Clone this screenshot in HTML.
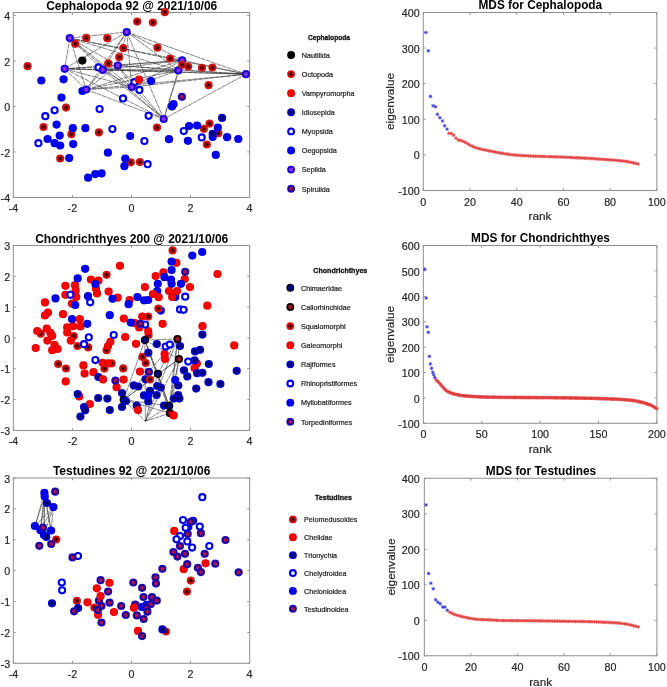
<!DOCTYPE html>
<html><head><meta charset="utf-8"><style>
html,body{margin:0;padding:0;background:#fff;}
body{width:667px;height:687px;overflow:hidden;}
svg{display:block;}
text{font-family:"Liberation Sans", sans-serif;}
svg{will-change:transform;filter:blur(0.3px);}
</style></head><body>
<svg width="667" height="687" viewBox="0 0 667 687" font-family='"Liberation Sans", sans-serif'>
<defs>
<radialGradient id="gO" cx="50%" cy="50%" r="50%">
  <stop offset="0" stop-color="#100000"/><stop offset="0.18" stop-color="#300000"/>
  <stop offset="0.42" stop-color="#8a0404"/><stop offset="0.65" stop-color="#c81212"/><stop offset="1" stop-color="#d81c1c"/>
</radialGradient>
<radialGradient id="gI" cx="50%" cy="50%" r="50%">
  <stop offset="0" stop-color="#000040"/><stop offset="0.25" stop-color="#000068"/>
  <stop offset="0.5" stop-color="#0000a4"/><stop offset="0.85" stop-color="#0000c0"/><stop offset="1" stop-color="#1010c4"/>
</radialGradient>
<radialGradient id="gS" cx="50%" cy="50%" r="50%">
  <stop offset="0" stop-color="#b434f0"/><stop offset="0.28" stop-color="#9430f0"/>
  <stop offset="0.5" stop-color="#4c18e6"/><stop offset="0.72" stop-color="#1400d0"/><stop offset="1" stop-color="#1a0ad8"/>
</radialGradient>
<radialGradient id="gP" cx="50%" cy="50%" r="50%">
  <stop offset="0" stop-color="#d0103c"/><stop offset="0.3" stop-color="#a01058"/>
  <stop offset="0.65" stop-color="#180090"/><stop offset="1" stop-color="#2010d0"/>
</radialGradient>
<radialGradient id="gCH" cx="50%" cy="50%" r="50%">
  <stop offset="0" stop-color="#0a0a98"/><stop offset="0.5" stop-color="#000078"/>
  <stop offset="0.8" stop-color="#000018"/><stop offset="1" stop-color="#000000"/>
</radialGradient>
<radialGradient id="gCA" cx="50%" cy="50%" r="50%">
  <stop offset="0" stop-color="#c82030"/><stop offset="0.35" stop-color="#901020"/>
  <stop offset="0.7" stop-color="#180000"/><stop offset="1" stop-color="#000000"/>
</radialGradient>
<radialGradient id="gG" cx="50%" cy="50%" r="50%">
  <stop offset="0" stop-color="#0000f4"/><stop offset="0.75" stop-color="#0000ee"/><stop offset="1" stop-color="#0000c8"/>
</radialGradient>
<radialGradient id="gV" cx="50%" cy="50%" r="50%">
  <stop offset="0" stop-color="#ff0808"/><stop offset="0.75" stop-color="#f40000"/><stop offset="1" stop-color="#dd0000"/>
</radialGradient>
</defs>
<rect width="667" height="687" fill="#fff"/>
<path d="M12.9 12.5H250.1M12.9 197.4H250.1" stroke="#8e8e8e" stroke-width="1.05" fill="none"/>
<path d="M13.4 12.5V197.4M249.6 12.5V197.4" stroke="#a2a2a2" stroke-width="1.2" fill="none"/>
<path d="M13.4 197.4v-2.4M13.4 12.5v2.4M72.45 197.4v-2.4M72.45 12.5v2.4M131.5 197.4v-2.4M131.5 12.5v2.4M190.55 197.4v-2.4M190.55 12.5v2.4M249.6 197.4v-2.4M249.6 12.5v2.4M13.4 15.5h2.4M249.6 15.5h-2.4M13.4 60.98h2.4M249.6 60.98h-2.4M13.4 106.45h2.4M249.6 106.45h-2.4M13.4 151.93h2.4M249.6 151.93h-2.4M13.4 197.4h2.4M249.6 197.4h-2.4" stroke="#959595" stroke-width="1" fill="none"/>
<text x="13.4" y="212" font-size="10.7" text-anchor="middle" fill="#262626" stroke="#262626" stroke-width="0.2">-4</text>
<text x="72.45" y="212" font-size="10.7" text-anchor="middle" fill="#262626" stroke="#262626" stroke-width="0.2">-2</text>
<text x="131.5" y="212" font-size="10.7" text-anchor="middle" fill="#262626" stroke="#262626" stroke-width="0.2">0</text>
<text x="190.55" y="212" font-size="10.7" text-anchor="middle" fill="#262626" stroke="#262626" stroke-width="0.2">2</text>
<text x="249.6" y="212" font-size="10.7" text-anchor="middle" fill="#262626" stroke="#262626" stroke-width="0.2">4</text>
<text x="10.1" y="20.1" font-size="10.7" text-anchor="end" fill="#262626" stroke="#262626" stroke-width="0.2">4</text>
<text x="10.1" y="65.58" font-size="10.7" text-anchor="end" fill="#262626" stroke="#262626" stroke-width="0.2">2</text>
<text x="10.1" y="111.05" font-size="10.7" text-anchor="end" fill="#262626" stroke="#262626" stroke-width="0.2">0</text>
<text x="10.1" y="156.53" font-size="10.7" text-anchor="end" fill="#262626" stroke="#262626" stroke-width="0.2">-2</text>
<text x="10.1" y="202" font-size="10.7" text-anchor="end" fill="#262626" stroke="#262626" stroke-width="0.2">-4</text>
<text x="131.7" y="9.6" font-size="12.0" text-anchor="middle" font-weight="bold" fill="#000">Cephalopoda 92 @ 2021/10/06</text>
<path d="M69.8 38.1L126.7 32M69.8 38.1L64.7 68.8M69.8 38.1L102.8 69.9M69.8 38.1L117.8 65.5M69.8 38.1L86.2 89.5M69.8 38.1L131.8 87M69.8 38.1L182.2 60.3M69.8 38.1L178.3 70.4M69.8 38.1L246 74.2M69.8 38.1L163.7 119M126.7 32L64.7 68.8M126.7 32L102.8 69.9M126.7 32L117.8 65.5M126.7 32L86.2 89.5M126.7 32L131.8 87M126.7 32L182.2 60.3M126.7 32L178.3 70.4M126.7 32L246 74.2M126.7 32L163.7 119M64.7 68.8L102.8 69.9M64.7 68.8L117.8 65.5M64.7 68.8L86.2 89.5M64.7 68.8L131.8 87M64.7 68.8L182.2 60.3M64.7 68.8L178.3 70.4M64.7 68.8L246 74.2M64.7 68.8L163.7 119M102.8 69.9L117.8 65.5M102.8 69.9L86.2 89.5M102.8 69.9L131.8 87M102.8 69.9L182.2 60.3M102.8 69.9L178.3 70.4M102.8 69.9L246 74.2M102.8 69.9L163.7 119M117.8 65.5L86.2 89.5M117.8 65.5L131.8 87M117.8 65.5L182.2 60.3M117.8 65.5L178.3 70.4M117.8 65.5L246 74.2M117.8 65.5L163.7 119M86.2 89.5L131.8 87M86.2 89.5L182.2 60.3M86.2 89.5L178.3 70.4M86.2 89.5L246 74.2M86.2 89.5L163.7 119M131.8 87L182.2 60.3M131.8 87L178.3 70.4M131.8 87L246 74.2M131.8 87L163.7 119M182.2 60.3L178.3 70.4M182.2 60.3L246 74.2M182.2 60.3L163.7 119M178.3 70.4L246 74.2M178.3 70.4L163.7 119M246 74.2L163.7 119" stroke="#303030" stroke-width="0.6" stroke-dasharray="5 0.6" fill="none"/>
<circle cx="86.3" cy="37.9" r="4.1" fill="url(#gO)"/>
<circle cx="107.3" cy="38.2" r="4.1" fill="url(#gO)"/>
<circle cx="75.3" cy="43.8" r="4.1" fill="url(#gO)"/>
<circle cx="123.4" cy="48.2" r="4.1" fill="url(#gO)"/>
<circle cx="119.2" cy="57.2" r="4.1" fill="url(#gO)"/>
<circle cx="108.3" cy="63.4" r="4.1" fill="url(#gO)"/>
<circle cx="27.6" cy="66.2" r="4.1" fill="url(#gO)"/>
<circle cx="137.2" cy="21.6" r="4.1" fill="url(#gO)"/>
<circle cx="152.9" cy="22.6" r="4.1" fill="url(#gO)"/>
<circle cx="164.8" cy="12.2" r="4.1" fill="url(#gO)"/>
<circle cx="157.5" cy="47.7" r="4.1" fill="url(#gO)"/>
<circle cx="170.1" cy="58.5" r="4.1" fill="url(#gO)"/>
<circle cx="188.2" cy="66.6" r="4.1" fill="url(#gO)"/>
<circle cx="202" cy="67.8" r="4.1" fill="url(#gO)"/>
<circle cx="212.4" cy="67.6" r="4.1" fill="url(#gO)"/>
<circle cx="208.6" cy="85.2" r="4.1" fill="url(#gO)"/>
<circle cx="66" cy="107.6" r="4.1" fill="url(#gO)"/>
<circle cx="43.5" cy="127" r="4.1" fill="url(#gO)"/>
<circle cx="98.9" cy="132.4" r="4.1" fill="url(#gO)"/>
<circle cx="71.4" cy="134.2" r="4.1" fill="url(#gO)"/>
<circle cx="60.2" cy="158.5" r="4.1" fill="url(#gO)"/>
<circle cx="130.8" cy="162.3" r="4.1" fill="url(#gO)"/>
<circle cx="157" cy="127.5" r="4.1" fill="url(#gO)"/>
<circle cx="209.6" cy="123.6" r="4.1" fill="url(#gO)"/>
<circle cx="203.9" cy="128.8" r="4.1" fill="url(#gO)"/>
<circle cx="218.4" cy="133.2" r="4.1" fill="url(#gO)"/>
<circle cx="206.9" cy="144.5" r="4.1" fill="url(#gO)"/>
<circle cx="139.9" cy="162.1" r="4.1" fill="url(#gO)"/>
<circle cx="82.3" cy="60.6" r="4.1" fill="#000"/>
<circle cx="222.1" cy="117.9" r="4.1" fill="url(#gI)"/>
<circle cx="98.5" cy="67.4" r="3.05" fill="#fff" stroke="#0000e8" stroke-width="2.1"/>
<circle cx="123" cy="98.4" r="3.05" fill="#fff" stroke="#0000e8" stroke-width="2.1"/>
<circle cx="134.4" cy="82.2" r="3.05" fill="#fff" stroke="#0000e8" stroke-width="2.1"/>
<circle cx="139.4" cy="89.9" r="3.05" fill="#fff" stroke="#0000e8" stroke-width="2.1"/>
<circle cx="54.6" cy="110.3" r="3.05" fill="#fff" stroke="#0000e8" stroke-width="2.1"/>
<circle cx="45.3" cy="116.2" r="3.05" fill="#fff" stroke="#0000e8" stroke-width="2.1"/>
<circle cx="99.6" cy="109" r="3.05" fill="#fff" stroke="#0000e8" stroke-width="2.1"/>
<circle cx="112.4" cy="129.1" r="3.05" fill="#fff" stroke="#0000e8" stroke-width="2.1"/>
<circle cx="38.4" cy="143.2" r="3.05" fill="#fff" stroke="#0000e8" stroke-width="2.1"/>
<circle cx="148.6" cy="115.8" r="3.05" fill="#fff" stroke="#0000e8" stroke-width="2.1"/>
<circle cx="183.8" cy="131.1" r="3.05" fill="#fff" stroke="#0000e8" stroke-width="2.1"/>
<circle cx="201.7" cy="137.4" r="3.05" fill="#fff" stroke="#0000e8" stroke-width="2.1"/>
<circle cx="144.4" cy="141" r="3.05" fill="#fff" stroke="#0000e8" stroke-width="2.1"/>
<circle cx="147.6" cy="164.2" r="3.05" fill="#fff" stroke="#0000e8" stroke-width="2.1"/>
<circle cx="41.3" cy="80.5" r="4.1" fill="url(#gG)"/>
<circle cx="63.6" cy="79.3" r="4.1" fill="url(#gG)"/>
<circle cx="82.4" cy="91" r="4.1" fill="url(#gG)"/>
<circle cx="61.5" cy="97.6" r="4.1" fill="url(#gG)"/>
<circle cx="151.1" cy="81" r="4.1" fill="url(#gG)"/>
<circle cx="172" cy="106.5" r="4.1" fill="url(#gG)"/>
<circle cx="173.5" cy="104.2" r="4.1" fill="url(#gG)"/>
<circle cx="56.6" cy="124.6" r="4.1" fill="url(#gG)"/>
<circle cx="72.8" cy="128.2" r="4.1" fill="url(#gG)"/>
<circle cx="85.4" cy="128.2" r="4.1" fill="url(#gG)"/>
<circle cx="59.7" cy="135.6" r="4.1" fill="url(#gG)"/>
<circle cx="47.6" cy="139" r="4.1" fill="url(#gG)"/>
<circle cx="54.6" cy="143.2" r="4.1" fill="url(#gG)"/>
<circle cx="60.2" cy="145.5" r="4.1" fill="url(#gG)"/>
<circle cx="73.2" cy="144.1" r="4.1" fill="url(#gG)"/>
<circle cx="107.9" cy="152.7" r="4.1" fill="url(#gG)"/>
<circle cx="69.2" cy="158.1" r="4.1" fill="url(#gG)"/>
<circle cx="88.1" cy="177.7" r="4.1" fill="url(#gG)"/>
<circle cx="95.3" cy="174.1" r="4.1" fill="url(#gG)"/>
<circle cx="101.6" cy="173.4" r="4.1" fill="url(#gG)"/>
<circle cx="130.2" cy="136" r="4.1" fill="url(#gG)"/>
<circle cx="125.3" cy="158.5" r="4.1" fill="url(#gG)"/>
<circle cx="124.4" cy="166.2" r="4.1" fill="url(#gG)"/>
<circle cx="189.1" cy="126" r="4.1" fill="url(#gG)"/>
<circle cx="197.1" cy="125.5" r="4.1" fill="url(#gG)"/>
<circle cx="217.8" cy="127.5" r="4.1" fill="url(#gG)"/>
<circle cx="212.7" cy="137" r="4.1" fill="url(#gG)"/>
<circle cx="227.1" cy="137.2" r="4.1" fill="url(#gG)"/>
<circle cx="238.3" cy="139" r="4.1" fill="url(#gG)"/>
<circle cx="169" cy="139.2" r="4.1" fill="url(#gG)"/>
<circle cx="187.9" cy="140.8" r="4.1" fill="url(#gG)"/>
<circle cx="215.8" cy="154.9" r="4.1" fill="url(#gG)"/>
<circle cx="69.8" cy="38.1" r="4.1" fill="url(#gS)"/>
<circle cx="126.7" cy="32" r="4.1" fill="url(#gS)"/>
<circle cx="64.7" cy="68.8" r="4.1" fill="url(#gS)"/>
<circle cx="102.8" cy="69.9" r="4.1" fill="url(#gS)"/>
<circle cx="117.8" cy="65.5" r="4.1" fill="url(#gS)"/>
<circle cx="86.2" cy="89.5" r="4.1" fill="url(#gS)"/>
<circle cx="131.8" cy="87" r="4.1" fill="url(#gS)"/>
<circle cx="182.2" cy="60.3" r="4.1" fill="url(#gS)"/>
<circle cx="178.3" cy="70.4" r="4.1" fill="url(#gS)"/>
<circle cx="246" cy="74.2" r="4.1" fill="url(#gS)"/>
<circle cx="163.7" cy="119" r="4.1" fill="url(#gS)"/>
<circle cx="181.9" cy="96.8" r="4.1" fill="url(#gP)"/>
<circle cx="182.2" cy="64.8" r="4.1" fill="url(#gO)"/>
<circle cx="139" cy="79.7" r="4.1" fill="url(#gV)"/>
<circle cx="212.7" cy="133.8" r="4.1" fill="url(#gI)"/>
<path d="M12.9 245.4H250.1M12.9 430.4H250.1" stroke="#8e8e8e" stroke-width="1.05" fill="none"/>
<path d="M13.4 245.4V430.4M249.6 245.4V430.4" stroke="#a2a2a2" stroke-width="1.2" fill="none"/>
<path d="M13.4 430.4v-2.4M13.4 245.4v2.4M72.45 430.4v-2.4M72.45 245.4v2.4M131.5 430.4v-2.4M131.5 245.4v2.4M190.55 430.4v-2.4M190.55 245.4v2.4M249.6 430.4v-2.4M249.6 245.4v2.4M13.4 245.4h2.4M249.6 245.4h-2.4M13.4 276.23h2.4M249.6 276.23h-2.4M13.4 307.07h2.4M249.6 307.07h-2.4M13.4 337.9h2.4M249.6 337.9h-2.4M13.4 368.73h2.4M249.6 368.73h-2.4M13.4 399.57h2.4M249.6 399.57h-2.4M13.4 430.4h2.4M249.6 430.4h-2.4" stroke="#959595" stroke-width="1" fill="none"/>
<text x="13.4" y="445" font-size="10.7" text-anchor="middle" fill="#262626" stroke="#262626" stroke-width="0.2">-4</text>
<text x="72.45" y="445" font-size="10.7" text-anchor="middle" fill="#262626" stroke="#262626" stroke-width="0.2">-2</text>
<text x="131.5" y="445" font-size="10.7" text-anchor="middle" fill="#262626" stroke="#262626" stroke-width="0.2">0</text>
<text x="190.55" y="445" font-size="10.7" text-anchor="middle" fill="#262626" stroke="#262626" stroke-width="0.2">2</text>
<text x="249.6" y="445" font-size="10.7" text-anchor="middle" fill="#262626" stroke="#262626" stroke-width="0.2">4</text>
<text x="10.1" y="250" font-size="10.7" text-anchor="end" fill="#262626" stroke="#262626" stroke-width="0.2">3</text>
<text x="10.1" y="280.83" font-size="10.7" text-anchor="end" fill="#262626" stroke="#262626" stroke-width="0.2">2</text>
<text x="10.1" y="311.67" font-size="10.7" text-anchor="end" fill="#262626" stroke="#262626" stroke-width="0.2">1</text>
<text x="10.1" y="342.5" font-size="10.7" text-anchor="end" fill="#262626" stroke="#262626" stroke-width="0.2">0</text>
<text x="10.1" y="373.33" font-size="10.7" text-anchor="end" fill="#262626" stroke="#262626" stroke-width="0.2">-1</text>
<text x="10.1" y="404.17" font-size="10.7" text-anchor="end" fill="#262626" stroke="#262626" stroke-width="0.2">-2</text>
<text x="10.1" y="435" font-size="10.7" text-anchor="end" fill="#262626" stroke="#262626" stroke-width="0.2">-3</text>
<text x="131.7" y="242.5" font-size="12.0" text-anchor="middle" font-weight="bold" fill="#000">Chondrichthyes 200 @ 2021/10/06</text>
<path d="M144.9 340.1L157.9 373.8M144.9 340.1L123.7 399.8M144.9 340.1L169.2 405.9M144.9 340.1L177.5 339M144.9 340.1L179 359.1M144.9 340.1L170 413.2M144.9 340.1L145.4 421.2M157.9 373.8L123.7 399.8M157.9 373.8L169.2 405.9M157.9 373.8L177.5 339M157.9 373.8L179 359.1M157.9 373.8L170 413.2M157.9 373.8L145.4 421.2M123.7 399.8L169.2 405.9M123.7 399.8L177.5 339M123.7 399.8L179 359.1M123.7 399.8L170 413.2M123.7 399.8L145.4 421.2M169.2 405.9L177.5 339M169.2 405.9L179 359.1M169.2 405.9L170 413.2M169.2 405.9L145.4 421.2M177.5 339L179 359.1M177.5 339L170 413.2M177.5 339L145.4 421.2M179 359.1L170 413.2M179 359.1L145.4 421.2M170 413.2L145.4 421.2" stroke="#303030" stroke-width="0.6" stroke-dasharray="5 0.6" fill="none"/>
<circle cx="106.6" cy="274.8" r="4.1" fill="url(#gO)"/>
<circle cx="172.6" cy="250.4" r="4.1" fill="url(#gO)"/>
<circle cx="73.8" cy="336.1" r="4.1" fill="url(#gO)"/>
<circle cx="77.4" cy="346" r="4.1" fill="url(#gO)"/>
<circle cx="88.2" cy="347.4" r="4.1" fill="url(#gO)"/>
<circle cx="40.8" cy="333.7" r="4.1" fill="url(#gO)"/>
<circle cx="58.2" cy="364" r="4.1" fill="url(#gO)"/>
<circle cx="66" cy="368.5" r="4.1" fill="url(#gO)"/>
<circle cx="148.2" cy="316.6" r="4.1" fill="url(#gO)"/>
<circle cx="148.6" cy="335" r="4.1" fill="url(#gO)"/>
<circle cx="106.6" cy="350.2" r="4.1" fill="url(#gO)"/>
<circle cx="142.5" cy="356.9" r="4.1" fill="url(#gO)"/>
<circle cx="145.7" cy="363" r="4.1" fill="url(#gO)"/>
<circle cx="111.6" cy="363.4" r="4.1" fill="url(#gO)"/>
<circle cx="104.4" cy="368.6" r="4.1" fill="url(#gO)"/>
<circle cx="123.2" cy="368.4" r="4.1" fill="url(#gO)"/>
<circle cx="90.9" cy="279.5" r="4.1" fill="url(#gV)"/>
<circle cx="65.4" cy="285.8" r="4.1" fill="url(#gV)"/>
<circle cx="75" cy="285.2" r="4.1" fill="url(#gV)"/>
<circle cx="75.6" cy="290.4" r="4.1" fill="url(#gV)"/>
<circle cx="76.2" cy="297" r="4.1" fill="url(#gV)"/>
<circle cx="65.4" cy="294.8" r="4.1" fill="url(#gV)"/>
<circle cx="45" cy="302.4" r="4.1" fill="url(#gV)"/>
<circle cx="72" cy="303.6" r="4.1" fill="url(#gV)"/>
<circle cx="120" cy="265.8" r="4.1" fill="url(#gV)"/>
<circle cx="98.5" cy="280.5" r="4.1" fill="url(#gV)"/>
<circle cx="96" cy="288.5" r="4.1" fill="url(#gV)"/>
<circle cx="97" cy="293.4" r="4.1" fill="url(#gV)"/>
<circle cx="108.6" cy="291.6" r="4.1" fill="url(#gV)"/>
<circle cx="117.6" cy="297.7" r="4.1" fill="url(#gV)"/>
<circle cx="129.6" cy="300" r="4.1" fill="url(#gV)"/>
<circle cx="144.9" cy="287" r="4.1" fill="url(#gV)"/>
<circle cx="155.7" cy="276" r="4.1" fill="url(#gV)"/>
<circle cx="163.4" cy="272.4" r="4.1" fill="url(#gV)"/>
<circle cx="176.4" cy="262.8" r="4.1" fill="url(#gV)"/>
<circle cx="217.5" cy="274" r="4.1" fill="url(#gV)"/>
<circle cx="184.8" cy="279" r="4.1" fill="url(#gV)"/>
<circle cx="190" cy="287.1" r="4.1" fill="url(#gV)"/>
<circle cx="207.3" cy="305.7" r="4.1" fill="url(#gV)"/>
<circle cx="48" cy="312.6" r="4.1" fill="url(#gV)"/>
<circle cx="45" cy="315.4" r="4.1" fill="url(#gV)"/>
<circle cx="63" cy="314.2" r="4.1" fill="url(#gV)"/>
<circle cx="79.8" cy="319.2" r="4.1" fill="url(#gV)"/>
<circle cx="80.4" cy="326.5" r="4.1" fill="url(#gV)"/>
<circle cx="67.2" cy="327.4" r="4.1" fill="url(#gV)"/>
<circle cx="73.2" cy="326.2" r="4.1" fill="url(#gV)"/>
<circle cx="67.2" cy="332.5" r="4.1" fill="url(#gV)"/>
<circle cx="70.8" cy="340.6" r="4.1" fill="url(#gV)"/>
<circle cx="37.2" cy="331" r="4.1" fill="url(#gV)"/>
<circle cx="46.8" cy="328.6" r="4.1" fill="url(#gV)"/>
<circle cx="50.4" cy="332.8" r="4.1" fill="url(#gV)"/>
<circle cx="52.2" cy="335.8" r="4.1" fill="url(#gV)"/>
<circle cx="47.4" cy="340.6" r="4.1" fill="url(#gV)"/>
<circle cx="54.6" cy="344.8" r="4.1" fill="url(#gV)"/>
<circle cx="57.6" cy="349" r="4.1" fill="url(#gV)"/>
<circle cx="52.2" cy="350.2" r="4.1" fill="url(#gV)"/>
<circle cx="35.7" cy="348.1" r="4.1" fill="url(#gV)"/>
<circle cx="83.4" cy="365.4" r="4.1" fill="url(#gV)"/>
<circle cx="123.8" cy="318.6" r="4.1" fill="url(#gV)"/>
<circle cx="135" cy="323.2" r="4.1" fill="url(#gV)"/>
<circle cx="139.2" cy="327.4" r="4.1" fill="url(#gV)"/>
<circle cx="142.2" cy="316.6" r="4.1" fill="url(#gV)"/>
<circle cx="162.6" cy="323.8" r="4.1" fill="url(#gV)"/>
<circle cx="125.2" cy="337" r="4.1" fill="url(#gV)"/>
<circle cx="148.2" cy="331" r="4.1" fill="url(#gV)"/>
<circle cx="136" cy="343.8" r="4.1" fill="url(#gV)"/>
<circle cx="110.4" cy="341.8" r="4.1" fill="url(#gV)"/>
<circle cx="108" cy="346" r="4.1" fill="url(#gV)"/>
<circle cx="164.6" cy="354" r="4.1" fill="url(#gV)"/>
<circle cx="165" cy="359.1" r="4.1" fill="url(#gV)"/>
<circle cx="102.6" cy="362.8" r="4.1" fill="url(#gV)"/>
<circle cx="108" cy="363.4" r="4.1" fill="url(#gV)"/>
<circle cx="202.5" cy="326.2" r="4.1" fill="url(#gV)"/>
<circle cx="234.2" cy="345.4" r="4.1" fill="url(#gV)"/>
<circle cx="196.8" cy="363.4" r="4.1" fill="url(#gV)"/>
<circle cx="84.6" cy="373.6" r="4.1" fill="url(#gV)"/>
<circle cx="65.7" cy="381.4" r="4.1" fill="url(#gV)"/>
<circle cx="79.2" cy="396.4" r="4.1" fill="url(#gV)"/>
<circle cx="89.8" cy="404" r="4.1" fill="url(#gV)"/>
<circle cx="93.5" cy="372.2" r="4.1" fill="url(#gV)"/>
<circle cx="123.6" cy="379.6" r="4.1" fill="url(#gV)"/>
<circle cx="116.6" cy="387.2" r="4.1" fill="url(#gV)"/>
<circle cx="140" cy="371.6" r="4.1" fill="url(#gV)"/>
<circle cx="194.6" cy="368" r="4.1" fill="url(#gV)"/>
<circle cx="156.8" cy="344" r="4.1" fill="url(#gI)"/>
<circle cx="202.4" cy="334.6" r="4.1" fill="url(#gI)"/>
<circle cx="180" cy="346.1" r="4.1" fill="url(#gI)"/>
<circle cx="195" cy="351.4" r="4.1" fill="url(#gI)"/>
<circle cx="200.1" cy="349.8" r="4.1" fill="url(#gI)"/>
<circle cx="194.6" cy="360.4" r="4.1" fill="url(#gI)"/>
<circle cx="208.8" cy="364" r="4.1" fill="url(#gI)"/>
<circle cx="148.4" cy="352.8" r="4.1" fill="url(#gI)"/>
<circle cx="77.7" cy="394" r="4.1" fill="url(#gI)"/>
<circle cx="84" cy="407" r="4.1" fill="url(#gI)"/>
<circle cx="85.2" cy="410.3" r="4.1" fill="url(#gI)"/>
<circle cx="80.4" cy="416.6" r="4.1" fill="url(#gI)"/>
<circle cx="98.4" cy="377" r="4.1" fill="url(#gI)"/>
<circle cx="145.4" cy="379.3" r="4.1" fill="url(#gI)"/>
<circle cx="133.8" cy="385.4" r="4.1" fill="url(#gI)"/>
<circle cx="138.3" cy="386.5" r="4.1" fill="url(#gI)"/>
<circle cx="157.2" cy="386" r="4.1" fill="url(#gI)"/>
<circle cx="160.8" cy="387.5" r="4.1" fill="url(#gI)"/>
<circle cx="122" cy="393.1" r="4.1" fill="url(#gI)"/>
<circle cx="150" cy="390.8" r="4.1" fill="url(#gI)"/>
<circle cx="144" cy="395.4" r="4.1" fill="url(#gI)"/>
<circle cx="156.6" cy="395" r="4.1" fill="url(#gI)"/>
<circle cx="98.2" cy="398" r="4.1" fill="url(#gI)"/>
<circle cx="107.4" cy="398.6" r="4.1" fill="url(#gI)"/>
<circle cx="148.3" cy="401.4" r="4.1" fill="url(#gI)"/>
<circle cx="122" cy="407" r="4.1" fill="url(#gI)"/>
<circle cx="109.8" cy="410" r="4.1" fill="url(#gI)"/>
<circle cx="136.7" cy="405.6" r="4.1" fill="url(#gI)"/>
<circle cx="164" cy="405.6" r="4.1" fill="url(#gI)"/>
<circle cx="184" cy="370.3" r="4.1" fill="url(#gI)"/>
<circle cx="187.3" cy="376.4" r="4.1" fill="url(#gI)"/>
<circle cx="197.1" cy="373.2" r="4.1" fill="url(#gI)"/>
<circle cx="202.4" cy="372.8" r="4.1" fill="url(#gI)"/>
<circle cx="236.7" cy="370.8" r="4.1" fill="url(#gI)"/>
<circle cx="208.5" cy="382.2" r="4.1" fill="url(#gI)"/>
<circle cx="220.4" cy="384" r="4.1" fill="url(#gI)"/>
<circle cx="196.2" cy="388.6" r="4.1" fill="url(#gI)"/>
<circle cx="178.3" cy="385.5" r="4.1" fill="url(#gI)"/>
<circle cx="178.2" cy="395" r="4.1" fill="url(#gI)"/>
<circle cx="174" cy="398.6" r="4.1" fill="url(#gI)"/>
<circle cx="179.4" cy="398.6" r="4.1" fill="url(#gI)"/>
<circle cx="177.5" cy="339" r="4.1" fill="url(#gCA)"/>
<circle cx="179" cy="359.1" r="4.1" fill="url(#gCA)"/>
<circle cx="170" cy="413.2" r="4.1" fill="url(#gCA)"/>
<circle cx="144.9" cy="340.1" r="4.1" fill="url(#gCH)"/>
<circle cx="157.9" cy="373.8" r="4.1" fill="url(#gCH)"/>
<circle cx="123.7" cy="399.8" r="4.1" fill="url(#gCH)"/>
<circle cx="169.2" cy="405.9" r="4.1" fill="url(#gCH)"/>
<circle cx="70.4" cy="294.8" r="3.05" fill="#fff" stroke="#0000e8" stroke-width="2.1"/>
<circle cx="90.2" cy="302.3" r="3.05" fill="#fff" stroke="#0000e8" stroke-width="2.1"/>
<circle cx="185.2" cy="296.7" r="3.05" fill="#fff" stroke="#0000e8" stroke-width="2.1"/>
<circle cx="113.7" cy="335" r="3.05" fill="#fff" stroke="#0000e8" stroke-width="2.1"/>
<circle cx="84" cy="344.2" r="3.05" fill="#fff" stroke="#0000e8" stroke-width="2.1"/>
<circle cx="88.8" cy="337.3" r="3.05" fill="#fff" stroke="#0000e8" stroke-width="2.1"/>
<circle cx="145.2" cy="324.6" r="3.05" fill="#fff" stroke="#0000e8" stroke-width="2.1"/>
<circle cx="165.7" cy="346.6" r="3.05" fill="#fff" stroke="#0000e8" stroke-width="2.1"/>
<circle cx="169.8" cy="344.6" r="3.05" fill="#fff" stroke="#0000e8" stroke-width="2.1"/>
<circle cx="180" cy="309.4" r="3.05" fill="#fff" stroke="#0000e8" stroke-width="2.1"/>
<circle cx="183.6" cy="309.8" r="3.05" fill="#fff" stroke="#0000e8" stroke-width="2.1"/>
<circle cx="188.2" cy="361.6" r="3.05" fill="#fff" stroke="#0000e8" stroke-width="2.1"/>
<circle cx="95.4" cy="360.1" r="3.05" fill="#fff" stroke="#0000e8" stroke-width="2.1"/>
<circle cx="85.2" cy="268.8" r="4.1" fill="url(#gG)"/>
<circle cx="77.7" cy="278.4" r="4.1" fill="url(#gG)"/>
<circle cx="55.5" cy="298.4" r="4.1" fill="url(#gG)"/>
<circle cx="75.2" cy="305" r="4.1" fill="url(#gG)"/>
<circle cx="88" cy="296.2" r="4.1" fill="url(#gG)"/>
<circle cx="95.4" cy="284" r="4.1" fill="url(#gG)"/>
<circle cx="112.5" cy="298.8" r="4.1" fill="url(#gG)"/>
<circle cx="128.6" cy="304.2" r="4.1" fill="url(#gG)"/>
<circle cx="137.4" cy="297" r="4.1" fill="url(#gG)"/>
<circle cx="144" cy="300.3" r="4.1" fill="url(#gG)"/>
<circle cx="148.2" cy="300" r="4.1" fill="url(#gG)"/>
<circle cx="164.4" cy="277.2" r="4.1" fill="url(#gG)"/>
<circle cx="157.8" cy="283.8" r="4.1" fill="url(#gG)"/>
<circle cx="157.2" cy="291" r="4.1" fill="url(#gG)"/>
<circle cx="192.3" cy="255.6" r="4.1" fill="url(#gG)"/>
<circle cx="202.2" cy="252" r="4.1" fill="url(#gG)"/>
<circle cx="171.6" cy="261.6" r="4.1" fill="url(#gG)"/>
<circle cx="171.6" cy="270" r="4.1" fill="url(#gG)"/>
<circle cx="171" cy="279.6" r="4.1" fill="url(#gG)"/>
<circle cx="181" cy="283.8" r="4.1" fill="url(#gG)"/>
<circle cx="171.6" cy="283.8" r="4.1" fill="url(#gG)"/>
<circle cx="175.2" cy="297" r="4.1" fill="url(#gG)"/>
<circle cx="72" cy="319" r="4.1" fill="url(#gG)"/>
<circle cx="87.3" cy="323.8" r="4.1" fill="url(#gG)"/>
<circle cx="109.8" cy="315.2" r="4.1" fill="url(#gG)"/>
<circle cx="130.8" cy="322.6" r="4.1" fill="url(#gG)"/>
<circle cx="160.8" cy="310.6" r="4.1" fill="url(#gG)"/>
<circle cx="175.2" cy="380" r="4.1" fill="url(#gG)"/>
<circle cx="148" cy="395.6" r="4.1" fill="url(#gG)"/>
<circle cx="185.2" cy="271.8" r="4.1" fill="url(#gP)"/>
<circle cx="140.4" cy="323.8" r="4.1" fill="url(#gP)"/>
<circle cx="148.9" cy="371.9" r="4.1" fill="url(#gP)"/>
<circle cx="115.4" cy="380.6" r="4.1" fill="url(#gP)"/>
<circle cx="158.4" cy="308.6" r="4.1" fill="url(#gO)"/>
<circle cx="150" cy="379.5" r="4.1" fill="url(#gO)"/>
<circle cx="153" cy="294" r="4.1" fill="url(#gV)"/>
<circle cx="158.7" cy="297.2" r="4.1" fill="url(#gV)"/>
<circle cx="169" cy="291" r="4.1" fill="url(#gV)"/>
<circle cx="177" cy="291" r="4.1" fill="url(#gV)"/>
<circle cx="172.2" cy="297" r="4.1" fill="url(#gV)"/>
<circle cx="103" cy="379.4" r="4.1" fill="url(#gV)"/>
<circle cx="138" cy="410.1" r="4.1" fill="url(#gV)"/>
<circle cx="173.6" cy="415.4" r="4.1" fill="url(#gV)"/>
<circle cx="126" cy="401" r="4.1" fill="url(#gI)"/>
<path d="M12.9 477.9H250.1M12.9 663.3H250.1" stroke="#8e8e8e" stroke-width="1.05" fill="none"/>
<path d="M13.4 477.9V663.3M249.6 477.9V663.3" stroke="#a2a2a2" stroke-width="1.2" fill="none"/>
<path d="M13.4 663.3v-2.4M13.4 477.9v2.4M72.45 663.3v-2.4M72.45 477.9v2.4M131.5 663.3v-2.4M131.5 477.9v2.4M190.55 663.3v-2.4M190.55 477.9v2.4M249.6 663.3v-2.4M249.6 477.9v2.4M13.4 477.9h2.4M249.6 477.9h-2.4M13.4 508.8h2.4M249.6 508.8h-2.4M13.4 539.7h2.4M249.6 539.7h-2.4M13.4 570.6h2.4M249.6 570.6h-2.4M13.4 601.5h2.4M249.6 601.5h-2.4M13.4 632.4h2.4M249.6 632.4h-2.4M13.4 663.3h2.4M249.6 663.3h-2.4" stroke="#959595" stroke-width="1" fill="none"/>
<text x="13.4" y="677.9" font-size="10.7" text-anchor="middle" fill="#262626" stroke="#262626" stroke-width="0.2">-4</text>
<text x="72.45" y="677.9" font-size="10.7" text-anchor="middle" fill="#262626" stroke="#262626" stroke-width="0.2">-2</text>
<text x="131.5" y="677.9" font-size="10.7" text-anchor="middle" fill="#262626" stroke="#262626" stroke-width="0.2">0</text>
<text x="190.55" y="677.9" font-size="10.7" text-anchor="middle" fill="#262626" stroke="#262626" stroke-width="0.2">2</text>
<text x="249.6" y="677.9" font-size="10.7" text-anchor="middle" fill="#262626" stroke="#262626" stroke-width="0.2">4</text>
<text x="10.1" y="482.5" font-size="10.7" text-anchor="end" fill="#262626" stroke="#262626" stroke-width="0.2">3</text>
<text x="10.1" y="513.4" font-size="10.7" text-anchor="end" fill="#262626" stroke="#262626" stroke-width="0.2">2</text>
<text x="10.1" y="544.3" font-size="10.7" text-anchor="end" fill="#262626" stroke="#262626" stroke-width="0.2">1</text>
<text x="10.1" y="575.2" font-size="10.7" text-anchor="end" fill="#262626" stroke="#262626" stroke-width="0.2">0</text>
<text x="10.1" y="606.1" font-size="10.7" text-anchor="end" fill="#262626" stroke="#262626" stroke-width="0.2">-1</text>
<text x="10.1" y="637" font-size="10.7" text-anchor="end" fill="#262626" stroke="#262626" stroke-width="0.2">-2</text>
<text x="10.1" y="667.9" font-size="10.7" text-anchor="end" fill="#262626" stroke="#262626" stroke-width="0.2">-3</text>
<text x="131.7" y="475" font-size="12.0" text-anchor="middle" font-weight="bold" fill="#000">Testudines 92 @ 2021/10/06</text>
<path d="M44.4 492.9L44.7 496.5M44.4 492.9L53.4 507M44.4 492.9L34.9 526M44.4 492.9L40.5 530.3M44.4 492.9L51.1 530.5M44.4 492.9L43.9 534.9M44.7 496.5L53.4 507M44.7 496.5L34.9 526M44.7 496.5L40.5 530.3M44.7 496.5L51.1 530.5M44.7 496.5L43.9 534.9M53.4 507L34.9 526M53.4 507L40.5 530.3M53.4 507L51.1 530.5M53.4 507L43.9 534.9M34.9 526L40.5 530.3M34.9 526L51.1 530.5M34.9 526L43.9 534.9M40.5 530.3L51.1 530.5M40.5 530.3L43.9 534.9M51.1 530.5L43.9 534.9" stroke="#303030" stroke-width="0.6" stroke-dasharray="5 0.6" fill="none"/>
<circle cx="56.2" cy="539.5" r="4.1" fill="url(#gO)"/>
<circle cx="76.9" cy="600.8" r="4.1" fill="url(#gO)"/>
<circle cx="94.3" cy="607.6" r="4.1" fill="url(#gO)"/>
<circle cx="190.8" cy="580.6" r="4.1" fill="url(#gO)"/>
<circle cx="187" cy="591.6" r="4.1" fill="url(#gO)"/>
<circle cx="166" cy="631.5" r="4.1" fill="url(#gO)"/>
<circle cx="87.5" cy="602.3" r="4.1" fill="url(#gV)"/>
<circle cx="109.5" cy="582.8" r="4.1" fill="url(#gV)"/>
<circle cx="96.8" cy="588.3" r="4.1" fill="url(#gV)"/>
<circle cx="98.1" cy="614.8" r="4.1" fill="url(#gV)"/>
<circle cx="114" cy="612.1" r="4.1" fill="url(#gV)"/>
<circle cx="138" cy="630.9" r="4.1" fill="url(#gV)"/>
<circle cx="183.7" cy="569.2" r="4.1" fill="url(#gV)"/>
<circle cx="174.2" cy="530.9" r="4.1" fill="url(#gV)"/>
<circle cx="205.6" cy="563.3" r="4.1" fill="url(#gV)"/>
<circle cx="47" cy="503" r="4.1" fill="url(#gI)"/>
<circle cx="52" cy="603.3" r="4.1" fill="url(#gI)"/>
<circle cx="78.1" cy="608.1" r="4.1" fill="url(#gI)"/>
<circle cx="162.4" cy="629.4" r="4.1" fill="url(#gI)"/>
<circle cx="78" cy="556" r="3.05" fill="#fff" stroke="#0000e8" stroke-width="2.1"/>
<circle cx="61.8" cy="582.5" r="3.05" fill="#fff" stroke="#0000e8" stroke-width="2.1"/>
<circle cx="62.1" cy="590.3" r="3.05" fill="#fff" stroke="#0000e8" stroke-width="2.1"/>
<circle cx="202.3" cy="497.2" r="3.05" fill="#fff" stroke="#0000e8" stroke-width="2.1"/>
<circle cx="183" cy="520.1" r="3.05" fill="#fff" stroke="#0000e8" stroke-width="2.1"/>
<circle cx="199.8" cy="526.6" r="3.05" fill="#fff" stroke="#0000e8" stroke-width="2.1"/>
<circle cx="180" cy="536" r="3.05" fill="#fff" stroke="#0000e8" stroke-width="2.1"/>
<circle cx="176.5" cy="539.3" r="3.05" fill="#fff" stroke="#0000e8" stroke-width="2.1"/>
<circle cx="187.3" cy="541.4" r="3.05" fill="#fff" stroke="#0000e8" stroke-width="2.1"/>
<circle cx="192.1" cy="547.6" r="3.05" fill="#fff" stroke="#0000e8" stroke-width="2.1"/>
<circle cx="209.3" cy="546" r="3.05" fill="#fff" stroke="#0000e8" stroke-width="2.1"/>
<circle cx="44.4" cy="492.9" r="4.1" fill="url(#gG)"/>
<circle cx="44.7" cy="496.5" r="4.1" fill="url(#gG)"/>
<circle cx="53.4" cy="507" r="4.1" fill="url(#gG)"/>
<circle cx="34.9" cy="526" r="4.1" fill="url(#gG)"/>
<circle cx="40.5" cy="530.3" r="4.1" fill="url(#gG)"/>
<circle cx="51.1" cy="530.5" r="4.1" fill="url(#gG)"/>
<circle cx="43.9" cy="534.9" r="4.1" fill="url(#gG)"/>
<circle cx="146.4" cy="604.8" r="4.1" fill="url(#gG)"/>
<circle cx="141.7" cy="607" r="4.1" fill="url(#gG)"/>
<circle cx="188.3" cy="527.1" r="4.1" fill="url(#gG)"/>
<circle cx="193.1" cy="520.8" r="4.1" fill="url(#gG)"/>
<circle cx="55.2" cy="491.7" r="4.1" fill="url(#gP)"/>
<circle cx="43" cy="527.5" r="4.1" fill="url(#gP)"/>
<circle cx="39.3" cy="545.8" r="4.1" fill="url(#gP)"/>
<circle cx="51.2" cy="544" r="4.1" fill="url(#gP)"/>
<circle cx="72.5" cy="557.4" r="4.1" fill="url(#gP)"/>
<circle cx="74.1" cy="611.3" r="4.1" fill="url(#gP)"/>
<circle cx="100.6" cy="580.2" r="4.1" fill="url(#gP)"/>
<circle cx="108.1" cy="591.6" r="4.1" fill="url(#gP)"/>
<circle cx="98.9" cy="600.6" r="4.1" fill="url(#gP)"/>
<circle cx="101.5" cy="606" r="4.1" fill="url(#gP)"/>
<circle cx="97.9" cy="610.1" r="4.1" fill="url(#gP)"/>
<circle cx="109.6" cy="602.7" r="4.1" fill="url(#gP)"/>
<circle cx="121.2" cy="606" r="4.1" fill="url(#gP)"/>
<circle cx="125.8" cy="615" r="4.1" fill="url(#gP)"/>
<circle cx="101.5" cy="622.5" r="4.1" fill="url(#gP)"/>
<circle cx="133.3" cy="582.5" r="4.1" fill="url(#gP)"/>
<circle cx="142.1" cy="587.8" r="4.1" fill="url(#gP)"/>
<circle cx="155.5" cy="577.3" r="4.1" fill="url(#gP)"/>
<circle cx="156" cy="583.5" r="4.1" fill="url(#gP)"/>
<circle cx="162.4" cy="568.8" r="4.1" fill="url(#gP)"/>
<circle cx="143.5" cy="597" r="4.1" fill="url(#gP)"/>
<circle cx="152" cy="597.2" r="4.1" fill="url(#gP)"/>
<circle cx="156.8" cy="600.6" r="4.1" fill="url(#gP)"/>
<circle cx="135.2" cy="604.6" r="4.1" fill="url(#gP)"/>
<circle cx="150.7" cy="604.2" r="4.1" fill="url(#gP)"/>
<circle cx="146.6" cy="608" r="4.1" fill="url(#gP)"/>
<circle cx="147.4" cy="611.7" r="4.1" fill="url(#gP)"/>
<circle cx="136.8" cy="615.4" r="4.1" fill="url(#gP)"/>
<circle cx="143.7" cy="619" r="4.1" fill="url(#gP)"/>
<circle cx="142.1" cy="636.1" r="4.1" fill="url(#gP)"/>
<circle cx="200.9" cy="533.2" r="4.1" fill="url(#gP)"/>
<circle cx="187.7" cy="534" r="4.1" fill="url(#gP)"/>
<circle cx="180" cy="546" r="4.1" fill="url(#gP)"/>
<circle cx="225.5" cy="540" r="4.1" fill="url(#gP)"/>
<circle cx="173.4" cy="552" r="4.1" fill="url(#gP)"/>
<circle cx="177.4" cy="556.6" r="4.1" fill="url(#gP)"/>
<circle cx="185" cy="553.8" r="4.1" fill="url(#gP)"/>
<circle cx="204.7" cy="553.8" r="4.1" fill="url(#gP)"/>
<circle cx="187.2" cy="564.2" r="4.1" fill="url(#gP)"/>
<circle cx="215.3" cy="563.7" r="4.1" fill="url(#gP)"/>
<circle cx="197.9" cy="567.8" r="4.1" fill="url(#gP)"/>
<circle cx="200.9" cy="572.1" r="4.1" fill="url(#gP)"/>
<circle cx="238.6" cy="572.3" r="4.1" fill="url(#gP)"/>
<circle cx="100.6" cy="596.1" r="4.1" fill="url(#gV)"/>
<circle cx="133.9" cy="607.8" r="4.1" fill="url(#gV)"/>
<circle cx="46.3" cy="536.9" r="4.1" fill="url(#gI)"/>
<circle cx="185.6" cy="527.8" r="3.05" fill="#fff" stroke="#0000e8" stroke-width="2.1"/>
<circle cx="190.8" cy="521.9" r="4.1" fill="url(#gP)"/>
<text x="329" y="40.4" font-size="6.65" text-anchor="middle" font-weight="bold" fill="#141414" stroke="#141414" stroke-width="0.3">Cephalopoda</text>
<circle cx="291.1" cy="55" r="3.95" fill="#000"/>
<text x="301.8" y="57.85" font-size="7.22" text-anchor="start" fill="#1a1a1a" stroke="#1a1a1a" stroke-width="0.2">Nautilida</text>
<circle cx="291.1" cy="74.1" r="3.95" fill="url(#gO)"/>
<text x="301.8" y="76.95" font-size="7.22" text-anchor="start" fill="#1a1a1a" stroke="#1a1a1a" stroke-width="0.2">Octopoda</text>
<circle cx="291.1" cy="93.2" r="3.95" fill="url(#gV)"/>
<text x="301.8" y="96.05" font-size="7.22" text-anchor="start" fill="#1a1a1a" stroke="#1a1a1a" stroke-width="0.2">Vampyromorpha</text>
<circle cx="291.1" cy="112.3" r="3.95" fill="url(#gI)"/>
<text x="301.8" y="115.15" font-size="7.22" text-anchor="start" fill="#1a1a1a" stroke="#1a1a1a" stroke-width="0.2">Idiosepida</text>
<circle cx="291.1" cy="131.4" r="2.9000000000000004" fill="#fff" stroke="#0000e8" stroke-width="2.1"/>
<text x="301.8" y="134.25" font-size="7.22" text-anchor="start" fill="#1a1a1a" stroke="#1a1a1a" stroke-width="0.2">Myopsida</text>
<circle cx="291.1" cy="150.5" r="3.95" fill="url(#gG)"/>
<text x="301.8" y="153.35" font-size="7.22" text-anchor="start" fill="#1a1a1a" stroke="#1a1a1a" stroke-width="0.2">Oegopsida</text>
<circle cx="291.1" cy="169.6" r="3.95" fill="url(#gS)"/>
<text x="301.8" y="172.45" font-size="7.22" text-anchor="start" fill="#1a1a1a" stroke="#1a1a1a" stroke-width="0.2">Sepiida</text>
<circle cx="291.1" cy="188.7" r="3.95" fill="url(#gP)"/>
<text x="301.8" y="191.55" font-size="7.22" text-anchor="start" fill="#1a1a1a" stroke="#1a1a1a" stroke-width="0.2">Spirulida</text>
<text x="340.3" y="273.3" font-size="7.1" text-anchor="middle" font-weight="bold" fill="#141414" stroke="#141414" stroke-width="0.3">Chondrichthyes</text>
<circle cx="290.3" cy="287.8" r="3.95" fill="url(#gCH)"/>
<text x="301" y="290.65" font-size="7.22" text-anchor="start" fill="#1a1a1a" stroke="#1a1a1a" stroke-width="0.2">Chimaeridae</text>
<circle cx="290.3" cy="306.94" r="3.95" fill="url(#gCA)"/>
<text x="301" y="309.79" font-size="7.22" text-anchor="start" fill="#1a1a1a" stroke="#1a1a1a" stroke-width="0.2">Callorhinchidae</text>
<circle cx="290.3" cy="326.08" r="3.95" fill="url(#gO)"/>
<text x="301" y="328.93" font-size="7.22" text-anchor="start" fill="#1a1a1a" stroke="#1a1a1a" stroke-width="0.2">Squalomorphi</text>
<circle cx="290.3" cy="345.22" r="3.95" fill="url(#gV)"/>
<text x="301" y="348.07" font-size="7.22" text-anchor="start" fill="#1a1a1a" stroke="#1a1a1a" stroke-width="0.2">Galeomorphi</text>
<circle cx="290.3" cy="364.36" r="3.95" fill="url(#gI)"/>
<text x="301" y="367.21" font-size="7.22" text-anchor="start" fill="#1a1a1a" stroke="#1a1a1a" stroke-width="0.2">Rajiformes</text>
<circle cx="290.3" cy="383.5" r="2.9000000000000004" fill="#fff" stroke="#0000e8" stroke-width="2.1"/>
<text x="301" y="386.35" font-size="7.22" text-anchor="start" fill="#1a1a1a" stroke="#1a1a1a" stroke-width="0.2">Rhinopristiformes</text>
<circle cx="290.3" cy="402.64" r="3.95" fill="url(#gG)"/>
<text x="301" y="405.49" font-size="7.22" text-anchor="start" fill="#1a1a1a" stroke="#1a1a1a" stroke-width="0.2">Myliobatiformes</text>
<circle cx="290.3" cy="421.78" r="3.95" fill="url(#gP)"/>
<text x="301" y="424.63" font-size="7.22" text-anchor="start" fill="#1a1a1a" stroke="#1a1a1a" stroke-width="0.2">Torpediniformes</text>
<text x="333.4" y="499.8" font-size="7.1" text-anchor="middle" font-weight="bold" fill="#141414" stroke="#141414" stroke-width="0.3">Testudines</text>
<circle cx="292.9" cy="519.4" r="3.95" fill="url(#gO)"/>
<text x="304" y="522.25" font-size="7.22" text-anchor="start" fill="#1a1a1a" stroke="#1a1a1a" stroke-width="0.2">Pelomedusoides</text>
<circle cx="292.9" cy="537.28" r="3.95" fill="url(#gV)"/>
<text x="304" y="540.13" font-size="7.22" text-anchor="start" fill="#1a1a1a" stroke="#1a1a1a" stroke-width="0.2">Chelidae</text>
<circle cx="292.9" cy="555.16" r="3.95" fill="url(#gI)"/>
<text x="304" y="558.01" font-size="7.22" text-anchor="start" fill="#1a1a1a" stroke="#1a1a1a" stroke-width="0.2">Trionychia</text>
<circle cx="292.9" cy="573.04" r="2.9000000000000004" fill="#fff" stroke="#0000e8" stroke-width="2.1"/>
<text x="304" y="575.89" font-size="7.22" text-anchor="start" fill="#1a1a1a" stroke="#1a1a1a" stroke-width="0.2">Chelydroidea</text>
<circle cx="292.9" cy="590.92" r="3.95" fill="url(#gG)"/>
<text x="304" y="593.77" font-size="7.22" text-anchor="start" fill="#1a1a1a" stroke="#1a1a1a" stroke-width="0.2">Chelonioidea</text>
<circle cx="292.9" cy="608.8" r="3.95" fill="url(#gP)"/>
<text x="304" y="611.65" font-size="7.22" text-anchor="start" fill="#1a1a1a" stroke="#1a1a1a" stroke-width="0.2">Testudinoidea</text>
<path d="M422.8 12.5H657.3M422.8 190.4H657.3" stroke="#8e8e8e" stroke-width="1.05" fill="none"/>
<path d="M423.3 12.5V190.4M656.8 12.5V190.4" stroke="#a2a2a2" stroke-width="1.2" fill="none"/>
<path d="M423.3 190.4v-2.4M423.3 12.5v2.4M470 190.4v-2.4M470 12.5v2.4M516.7 190.4v-2.4M516.7 12.5v2.4M563.4 190.4v-2.4M563.4 12.5v2.4M610.1 190.4v-2.4M610.1 12.5v2.4M656.8 190.4v-2.4M656.8 12.5v2.4M423.3 12.5h2.4M656.8 12.5h-2.4M423.3 48.08h2.4M656.8 48.08h-2.4M423.3 83.66h2.4M656.8 83.66h-2.4M423.3 119.24h2.4M656.8 119.24h-2.4M423.3 154.82h2.4M656.8 154.82h-2.4M423.3 190.4h2.4M656.8 190.4h-2.4" stroke="#959595" stroke-width="1" fill="none"/>
<text x="423.3" y="205.5" font-size="10.7" text-anchor="middle" fill="#262626" stroke="#262626" stroke-width="0.2">0</text>
<text x="470" y="205.5" font-size="10.7" text-anchor="middle" fill="#262626" stroke="#262626" stroke-width="0.2">20</text>
<text x="516.7" y="205.5" font-size="10.7" text-anchor="middle" fill="#262626" stroke="#262626" stroke-width="0.2">40</text>
<text x="563.4" y="205.5" font-size="10.7" text-anchor="middle" fill="#262626" stroke="#262626" stroke-width="0.2">60</text>
<text x="610.1" y="205.5" font-size="10.7" text-anchor="middle" fill="#262626" stroke="#262626" stroke-width="0.2">80</text>
<text x="656.8" y="205.5" font-size="10.7" text-anchor="middle" fill="#262626" stroke="#262626" stroke-width="0.2">100</text>
<text x="419.7" y="17.1" font-size="10.7" text-anchor="end" fill="#262626" stroke="#262626" stroke-width="0.2">400</text>
<text x="419.7" y="52.68" font-size="10.7" text-anchor="end" fill="#262626" stroke="#262626" stroke-width="0.2">300</text>
<text x="419.7" y="88.26" font-size="10.7" text-anchor="end" fill="#262626" stroke="#262626" stroke-width="0.2">200</text>
<text x="419.7" y="123.84" font-size="10.7" text-anchor="end" fill="#262626" stroke="#262626" stroke-width="0.2">100</text>
<text x="419.7" y="159.42" font-size="10.7" text-anchor="end" fill="#262626" stroke="#262626" stroke-width="0.2">0</text>
<text x="419.7" y="195" font-size="10.7" text-anchor="end" fill="#262626" stroke="#262626" stroke-width="0.2">-100</text>
<text x="540.35" y="9.4" font-size="11.85" text-anchor="middle" font-weight="bold" fill="#000">MDS for Cephalopoda</text>
<text x="540.05" y="220.2" font-size="11.8" text-anchor="middle" fill="#262626" stroke="#262626" stroke-width="0.2">rank</text>
<text x="0" y="0" font-size="11.8" text-anchor="middle" fill="#262626" stroke="#262626" stroke-width="0.2" transform="translate(393.8 101.45) rotate(-90)">eigenvalue</text>
<path d="M425.9 32.5m-1.8 0h3.6m-1.8-1.8v3.6m-1.27-0.53l2.54-2.54m0 2.54l-2.54-2.54M428.3 50.8m-1.8 0h3.6m-1.8-1.8v3.6m-1.27-0.53l2.54-2.54m0 2.54l-2.54-2.54M430.5 96.4m-1.8 0h3.6m-1.8-1.8v3.6m-1.27-0.53l2.54-2.54m0 2.54l-2.54-2.54M433.1 105.8m-1.8 0h3.6m-1.8-1.8v3.6m-1.27-0.53l2.54-2.54m0 2.54l-2.54-2.54M435.5 106.8m-1.8 0h3.6m-1.8-1.8v3.6m-1.27-0.53l2.54-2.54m0 2.54l-2.54-2.54M437.4 114.3m-1.8 0h3.6m-1.8-1.8v3.6m-1.27-0.53l2.54-2.54m0 2.54l-2.54-2.54M439.9 117.7m-1.8 0h3.6m-1.8-1.8v3.6m-1.27-0.53l2.54-2.54m0 2.54l-2.54-2.54M442.5 121m-1.8 0h3.6m-1.8-1.8v3.6m-1.27-0.53l2.54-2.54m0 2.54l-2.54-2.54M444.6 125.8m-1.8 0h3.6m-1.8-1.8v3.6m-1.27-0.53l2.54-2.54m0 2.54l-2.54-2.54M447.1 129.1m-1.8 0h3.6m-1.8-1.8v3.6m-1.27-0.53l2.54-2.54m0 2.54l-2.54-2.54" stroke="#3a3ad8" stroke-width="0.85" fill="none"/>
<path d="M448.99 133.3m-1.8 0h3.6m-1.8-1.8v3.6m-1.27-0.53l2.54-2.54m0 2.54l-2.54-2.54M451.32 133.56m-1.8 0h3.6m-1.8-1.8v3.6m-1.27-0.53l2.54-2.54m0 2.54l-2.54-2.54M453.66 135.23m-1.8 0h3.6m-1.8-1.8v3.6m-1.27-0.53l2.54-2.54m0 2.54l-2.54-2.54M455.99 138.1m-1.8 0h3.6m-1.8-1.8v3.6m-1.27-0.53l2.54-2.54m0 2.54l-2.54-2.54M458.32 140.08m-1.8 0h3.6m-1.8-1.8v3.6m-1.27-0.53l2.54-2.54m0 2.54l-2.54-2.54M460.66 140.39m-1.8 0h3.6m-1.8-1.8v3.6m-1.27-0.53l2.54-2.54m0 2.54l-2.54-2.54M463 141.35m-1.8 0h3.6m-1.8-1.8v3.6m-1.27-0.53l2.54-2.54m0 2.54l-2.54-2.54M465.33 142.29m-1.8 0h3.6m-1.8-1.8v3.6m-1.27-0.53l2.54-2.54m0 2.54l-2.54-2.54M467.67 143.71m-1.8 0h3.6m-1.8-1.8v3.6m-1.27-0.53l2.54-2.54m0 2.54l-2.54-2.54M470 145.2m-1.8 0h3.6m-1.8-1.8v3.6m-1.27-0.53l2.54-2.54m0 2.54l-2.54-2.54M472.33 146.21m-1.8 0h3.6m-1.8-1.8v3.6m-1.27-0.53l2.54-2.54m0 2.54l-2.54-2.54M474.67 147.22m-1.8 0h3.6m-1.8-1.8v3.6m-1.27-0.53l2.54-2.54m0 2.54l-2.54-2.54M477 148.07m-1.8 0h3.6m-1.8-1.8v3.6m-1.27-0.53l2.54-2.54m0 2.54l-2.54-2.54M479.34 148.69m-1.8 0h3.6m-1.8-1.8v3.6m-1.27-0.53l2.54-2.54m0 2.54l-2.54-2.54M481.68 149.31m-1.8 0h3.6m-1.8-1.8v3.6m-1.27-0.53l2.54-2.54m0 2.54l-2.54-2.54M484.01 149.8m-1.8 0h3.6m-1.8-1.8v3.6m-1.27-0.53l2.54-2.54m0 2.54l-2.54-2.54M486.35 150.27m-1.8 0h3.6m-1.8-1.8v3.6m-1.27-0.53l2.54-2.54m0 2.54l-2.54-2.54M488.68 150.74m-1.8 0h3.6m-1.8-1.8v3.6m-1.27-0.53l2.54-2.54m0 2.54l-2.54-2.54M491.01 151.2m-1.8 0h3.6m-1.8-1.8v3.6m-1.27-0.53l2.54-2.54m0 2.54l-2.54-2.54M493.35 151.67m-1.8 0h3.6m-1.8-1.8v3.6m-1.27-0.53l2.54-2.54m0 2.54l-2.54-2.54M495.69 152.14m-1.8 0h3.6m-1.8-1.8v3.6m-1.27-0.53l2.54-2.54m0 2.54l-2.54-2.54M498.02 152.6m-1.8 0h3.6m-1.8-1.8v3.6m-1.27-0.53l2.54-2.54m0 2.54l-2.54-2.54M500.36 153.05m-1.8 0h3.6m-1.8-1.8v3.6m-1.27-0.53l2.54-2.54m0 2.54l-2.54-2.54M502.69 153.4m-1.8 0h3.6m-1.8-1.8v3.6m-1.27-0.53l2.54-2.54m0 2.54l-2.54-2.54M505.02 153.75m-1.8 0h3.6m-1.8-1.8v3.6m-1.27-0.53l2.54-2.54m0 2.54l-2.54-2.54M507.36 154.1m-1.8 0h3.6m-1.8-1.8v3.6m-1.27-0.53l2.54-2.54m0 2.54l-2.54-2.54M509.69 154.45m-1.8 0h3.6m-1.8-1.8v3.6m-1.27-0.53l2.54-2.54m0 2.54l-2.54-2.54M512.03 154.8m-1.8 0h3.6m-1.8-1.8v3.6m-1.27-0.53l2.54-2.54m0 2.54l-2.54-2.54M514.37 155m-1.8 0h3.6m-1.8-1.8v3.6m-1.27-0.53l2.54-2.54m0 2.54l-2.54-2.54M516.7 155.2m-1.8 0h3.6m-1.8-1.8v3.6m-1.27-0.53l2.54-2.54m0 2.54l-2.54-2.54M519.03 155.4m-1.8 0h3.6m-1.8-1.8v3.6m-1.27-0.53l2.54-2.54m0 2.54l-2.54-2.54M521.37 155.53m-1.8 0h3.6m-1.8-1.8v3.6m-1.27-0.53l2.54-2.54m0 2.54l-2.54-2.54M523.7 155.65m-1.8 0h3.6m-1.8-1.8v3.6m-1.27-0.53l2.54-2.54m0 2.54l-2.54-2.54M526.04 155.78m-1.8 0h3.6m-1.8-1.8v3.6m-1.27-0.53l2.54-2.54m0 2.54l-2.54-2.54M528.38 155.9m-1.8 0h3.6m-1.8-1.8v3.6m-1.27-0.53l2.54-2.54m0 2.54l-2.54-2.54M530.71 156.02m-1.8 0h3.6m-1.8-1.8v3.6m-1.27-0.53l2.54-2.54m0 2.54l-2.54-2.54M533.04 156.15m-1.8 0h3.6m-1.8-1.8v3.6m-1.27-0.53l2.54-2.54m0 2.54l-2.54-2.54M535.38 156.24m-1.8 0h3.6m-1.8-1.8v3.6m-1.27-0.53l2.54-2.54m0 2.54l-2.54-2.54M537.72 156.31m-1.8 0h3.6m-1.8-1.8v3.6m-1.27-0.53l2.54-2.54m0 2.54l-2.54-2.54M540.05 156.38m-1.8 0h3.6m-1.8-1.8v3.6m-1.27-0.53l2.54-2.54m0 2.54l-2.54-2.54M542.38 156.45m-1.8 0h3.6m-1.8-1.8v3.6m-1.27-0.53l2.54-2.54m0 2.54l-2.54-2.54M544.72 156.52m-1.8 0h3.6m-1.8-1.8v3.6m-1.27-0.53l2.54-2.54m0 2.54l-2.54-2.54M547.05 156.59m-1.8 0h3.6m-1.8-1.8v3.6m-1.27-0.53l2.54-2.54m0 2.54l-2.54-2.54M549.39 156.66m-1.8 0h3.6m-1.8-1.8v3.6m-1.27-0.53l2.54-2.54m0 2.54l-2.54-2.54M551.73 156.73m-1.8 0h3.6m-1.8-1.8v3.6m-1.27-0.53l2.54-2.54m0 2.54l-2.54-2.54M554.06 156.79m-1.8 0h3.6m-1.8-1.8v3.6m-1.27-0.53l2.54-2.54m0 2.54l-2.54-2.54M556.39 156.86m-1.8 0h3.6m-1.8-1.8v3.6m-1.27-0.53l2.54-2.54m0 2.54l-2.54-2.54M558.73 156.93m-1.8 0h3.6m-1.8-1.8v3.6m-1.27-0.53l2.54-2.54m0 2.54l-2.54-2.54M561.06 157m-1.8 0h3.6m-1.8-1.8v3.6m-1.27-0.53l2.54-2.54m0 2.54l-2.54-2.54M563.4 157.12m-1.8 0h3.6m-1.8-1.8v3.6m-1.27-0.53l2.54-2.54m0 2.54l-2.54-2.54M565.74 157.23m-1.8 0h3.6m-1.8-1.8v3.6m-1.27-0.53l2.54-2.54m0 2.54l-2.54-2.54M568.07 157.34m-1.8 0h3.6m-1.8-1.8v3.6m-1.27-0.53l2.54-2.54m0 2.54l-2.54-2.54M570.4 157.45m-1.8 0h3.6m-1.8-1.8v3.6m-1.27-0.53l2.54-2.54m0 2.54l-2.54-2.54M572.74 157.57m-1.8 0h3.6m-1.8-1.8v3.6m-1.27-0.53l2.54-2.54m0 2.54l-2.54-2.54M575.08 157.68m-1.8 0h3.6m-1.8-1.8v3.6m-1.27-0.53l2.54-2.54m0 2.54l-2.54-2.54M577.41 157.79m-1.8 0h3.6m-1.8-1.8v3.6m-1.27-0.53l2.54-2.54m0 2.54l-2.54-2.54M579.75 157.9m-1.8 0h3.6m-1.8-1.8v3.6m-1.27-0.53l2.54-2.54m0 2.54l-2.54-2.54M582.08 158.01m-1.8 0h3.6m-1.8-1.8v3.6m-1.27-0.53l2.54-2.54m0 2.54l-2.54-2.54M584.41 158.13m-1.8 0h3.6m-1.8-1.8v3.6m-1.27-0.53l2.54-2.54m0 2.54l-2.54-2.54M586.75 158.24m-1.8 0h3.6m-1.8-1.8v3.6m-1.27-0.53l2.54-2.54m0 2.54l-2.54-2.54M589.09 158.38m-1.8 0h3.6m-1.8-1.8v3.6m-1.27-0.53l2.54-2.54m0 2.54l-2.54-2.54M591.42 158.54m-1.8 0h3.6m-1.8-1.8v3.6m-1.27-0.53l2.54-2.54m0 2.54l-2.54-2.54M593.75 158.7m-1.8 0h3.6m-1.8-1.8v3.6m-1.27-0.53l2.54-2.54m0 2.54l-2.54-2.54M596.09 158.87m-1.8 0h3.6m-1.8-1.8v3.6m-1.27-0.53l2.54-2.54m0 2.54l-2.54-2.54M598.42 159.03m-1.8 0h3.6m-1.8-1.8v3.6m-1.27-0.53l2.54-2.54m0 2.54l-2.54-2.54M600.76 159.2m-1.8 0h3.6m-1.8-1.8v3.6m-1.27-0.53l2.54-2.54m0 2.54l-2.54-2.54M603.1 159.36m-1.8 0h3.6m-1.8-1.8v3.6m-1.27-0.53l2.54-2.54m0 2.54l-2.54-2.54M605.43 159.53m-1.8 0h3.6m-1.8-1.8v3.6m-1.27-0.53l2.54-2.54m0 2.54l-2.54-2.54M607.76 159.69m-1.8 0h3.6m-1.8-1.8v3.6m-1.27-0.53l2.54-2.54m0 2.54l-2.54-2.54M610.1 159.86m-1.8 0h3.6m-1.8-1.8v3.6m-1.27-0.53l2.54-2.54m0 2.54l-2.54-2.54M612.43 160.02m-1.8 0h3.6m-1.8-1.8v3.6m-1.27-0.53l2.54-2.54m0 2.54l-2.54-2.54M614.77 160.18m-1.8 0h3.6m-1.8-1.8v3.6m-1.27-0.53l2.54-2.54m0 2.54l-2.54-2.54M617.11 160.42m-1.8 0h3.6m-1.8-1.8v3.6m-1.27-0.53l2.54-2.54m0 2.54l-2.54-2.54M619.44 160.66m-1.8 0h3.6m-1.8-1.8v3.6m-1.27-0.53l2.54-2.54m0 2.54l-2.54-2.54M621.77 160.9m-1.8 0h3.6m-1.8-1.8v3.6m-1.27-0.53l2.54-2.54m0 2.54l-2.54-2.54M624.11 161.14m-1.8 0h3.6m-1.8-1.8v3.6m-1.27-0.53l2.54-2.54m0 2.54l-2.54-2.54M626.44 161.45m-1.8 0h3.6m-1.8-1.8v3.6m-1.27-0.53l2.54-2.54m0 2.54l-2.54-2.54M628.78 161.91m-1.8 0h3.6m-1.8-1.8v3.6m-1.27-0.53l2.54-2.54m0 2.54l-2.54-2.54M631.12 162.37m-1.8 0h3.6m-1.8-1.8v3.6m-1.27-0.53l2.54-2.54m0 2.54l-2.54-2.54M633.45 162.83m-1.8 0h3.6m-1.8-1.8v3.6m-1.27-0.53l2.54-2.54m0 2.54l-2.54-2.54M635.78 163.41m-1.8 0h3.6m-1.8-1.8v3.6m-1.27-0.53l2.54-2.54m0 2.54l-2.54-2.54M638.12 164.02m-1.8 0h3.6m-1.8-1.8v3.6m-1.27-0.53l2.54-2.54m0 2.54l-2.54-2.54" stroke="#e23c3c" stroke-width="0.85" fill="none"/>
<path d="M422.9 245.5H657.4M422.9 423.3H657.4" stroke="#8e8e8e" stroke-width="1.05" fill="none"/>
<path d="M423.4 245.5V423.3M656.9 245.5V423.3" stroke="#a2a2a2" stroke-width="1.2" fill="none"/>
<path d="M423.4 423.3v-2.4M423.4 245.5v2.4M481.77 423.3v-2.4M481.77 245.5v2.4M540.15 423.3v-2.4M540.15 245.5v2.4M598.52 423.3v-2.4M598.52 245.5v2.4M656.9 423.3v-2.4M656.9 245.5v2.4M423.4 245.5h2.4M656.9 245.5h-2.4M423.4 270.9h2.4M656.9 270.9h-2.4M423.4 296.3h2.4M656.9 296.3h-2.4M423.4 321.7h2.4M656.9 321.7h-2.4M423.4 347.1h2.4M656.9 347.1h-2.4M423.4 372.5h2.4M656.9 372.5h-2.4M423.4 397.9h2.4M656.9 397.9h-2.4M423.4 423.3h2.4M656.9 423.3h-2.4" stroke="#959595" stroke-width="1" fill="none"/>
<text x="423.4" y="438.4" font-size="10.7" text-anchor="middle" fill="#262626" stroke="#262626" stroke-width="0.2">0</text>
<text x="481.77" y="438.4" font-size="10.7" text-anchor="middle" fill="#262626" stroke="#262626" stroke-width="0.2">50</text>
<text x="540.15" y="438.4" font-size="10.7" text-anchor="middle" fill="#262626" stroke="#262626" stroke-width="0.2">100</text>
<text x="598.52" y="438.4" font-size="10.7" text-anchor="middle" fill="#262626" stroke="#262626" stroke-width="0.2">150</text>
<text x="656.9" y="438.4" font-size="10.7" text-anchor="middle" fill="#262626" stroke="#262626" stroke-width="0.2">200</text>
<text x="419.7" y="250.1" font-size="10.7" text-anchor="end" fill="#262626" stroke="#262626" stroke-width="0.2">600</text>
<text x="419.7" y="275.5" font-size="10.7" text-anchor="end" fill="#262626" stroke="#262626" stroke-width="0.2">500</text>
<text x="419.7" y="300.9" font-size="10.7" text-anchor="end" fill="#262626" stroke="#262626" stroke-width="0.2">400</text>
<text x="419.7" y="326.3" font-size="10.7" text-anchor="end" fill="#262626" stroke="#262626" stroke-width="0.2">300</text>
<text x="419.7" y="351.7" font-size="10.7" text-anchor="end" fill="#262626" stroke="#262626" stroke-width="0.2">200</text>
<text x="419.7" y="377.1" font-size="10.7" text-anchor="end" fill="#262626" stroke="#262626" stroke-width="0.2">100</text>
<text x="419.7" y="402.5" font-size="10.7" text-anchor="end" fill="#262626" stroke="#262626" stroke-width="0.2">0</text>
<text x="419.7" y="427.9" font-size="10.7" text-anchor="end" fill="#262626" stroke="#262626" stroke-width="0.2">-100</text>
<text x="540.45" y="242.4" font-size="11.85" text-anchor="middle" font-weight="bold" fill="#000">MDS for Chondrichthyes</text>
<text x="540.15" y="453.1" font-size="11.8" text-anchor="middle" fill="#262626" stroke="#262626" stroke-width="0.2">rank</text>
<text x="0" y="0" font-size="11.8" text-anchor="middle" fill="#262626" stroke="#262626" stroke-width="0.2" transform="translate(393.9 334.4) rotate(-90)">eigenvalue</text>
<path d="M424.8 269.2m-1.8 0h3.6m-1.8-1.8v3.6m-1.27-0.53l2.54-2.54m0 2.54l-2.54-2.54M426.1 298m-1.8 0h3.6m-1.8-1.8v3.6m-1.27-0.53l2.54-2.54m0 2.54l-2.54-2.54M427 326.8m-1.8 0h3.6m-1.8-1.8v3.6m-1.27-0.53l2.54-2.54m0 2.54l-2.54-2.54M428.3 332.3m-1.8 0h3.6m-1.8-1.8v3.6m-1.27-0.53l2.54-2.54m0 2.54l-2.54-2.54M429.4 356.3m-1.8 0h3.6m-1.8-1.8v3.6m-1.27-0.53l2.54-2.54m0 2.54l-2.54-2.54M430.3 363.9m-1.8 0h3.6m-1.8-1.8v3.6m-1.27-0.53l2.54-2.54m0 2.54l-2.54-2.54M431.6 368.3m-1.8 0h3.6m-1.8-1.8v3.6m-1.27-0.53l2.54-2.54m0 2.54l-2.54-2.54M432.7 372.2m-1.8 0h3.6m-1.8-1.8v3.6m-1.27-0.53l2.54-2.54m0 2.54l-2.54-2.54M433.7 374.8m-1.8 0h3.6m-1.8-1.8v3.6m-1.27-0.53l2.54-2.54m0 2.54l-2.54-2.54M434.8 377.6m-1.8 0h3.6m-1.8-1.8v3.6m-1.27-0.53l2.54-2.54m0 2.54l-2.54-2.54" stroke="#3a3ad8" stroke-width="0.85" fill="none"/>
<path d="M436.24 379.94m-1.8 0h3.6m-1.8-1.8v3.6m-1.27-0.53l2.54-2.54m0 2.54l-2.54-2.54M437.41 381.11m-1.8 0h3.6m-1.8-1.8v3.6m-1.27-0.53l2.54-2.54m0 2.54l-2.54-2.54M438.58 382.28m-1.8 0h3.6m-1.8-1.8v3.6m-1.27-0.53l2.54-2.54m0 2.54l-2.54-2.54M439.75 383.54m-1.8 0h3.6m-1.8-1.8v3.6m-1.27-0.53l2.54-2.54m0 2.54l-2.54-2.54M440.91 384.87m-1.8 0h3.6m-1.8-1.8v3.6m-1.27-0.53l2.54-2.54m0 2.54l-2.54-2.54M442.08 386.19m-1.8 0h3.6m-1.8-1.8v3.6m-1.27-0.53l2.54-2.54m0 2.54l-2.54-2.54M443.25 387.56m-1.8 0h3.6m-1.8-1.8v3.6m-1.27-0.53l2.54-2.54m0 2.54l-2.54-2.54M444.41 388.92m-1.8 0h3.6m-1.8-1.8v3.6m-1.27-0.53l2.54-2.54m0 2.54l-2.54-2.54M445.58 389.99m-1.8 0h3.6m-1.8-1.8v3.6m-1.27-0.53l2.54-2.54m0 2.54l-2.54-2.54M446.75 390.78m-1.8 0h3.6m-1.8-1.8v3.6m-1.27-0.53l2.54-2.54m0 2.54l-2.54-2.54M447.92 391.57m-1.8 0h3.6m-1.8-1.8v3.6m-1.27-0.53l2.54-2.54m0 2.54l-2.54-2.54M449.08 392.25m-1.8 0h3.6m-1.8-1.8v3.6m-1.27-0.53l2.54-2.54m0 2.54l-2.54-2.54M450.25 392.71m-1.8 0h3.6m-1.8-1.8v3.6m-1.27-0.53l2.54-2.54m0 2.54l-2.54-2.54M451.42 393.17m-1.8 0h3.6m-1.8-1.8v3.6m-1.27-0.53l2.54-2.54m0 2.54l-2.54-2.54M452.59 393.62m-1.8 0h3.6m-1.8-1.8v3.6m-1.27-0.53l2.54-2.54m0 2.54l-2.54-2.54M453.75 393.88m-1.8 0h3.6m-1.8-1.8v3.6m-1.27-0.53l2.54-2.54m0 2.54l-2.54-2.54M454.92 394.15m-1.8 0h3.6m-1.8-1.8v3.6m-1.27-0.53l2.54-2.54m0 2.54l-2.54-2.54M456.09 394.41m-1.8 0h3.6m-1.8-1.8v3.6m-1.27-0.53l2.54-2.54m0 2.54l-2.54-2.54M457.26 394.68m-1.8 0h3.6m-1.8-1.8v3.6m-1.27-0.53l2.54-2.54m0 2.54l-2.54-2.54M458.42 394.94m-1.8 0h3.6m-1.8-1.8v3.6m-1.27-0.53l2.54-2.54m0 2.54l-2.54-2.54M459.59 395.21m-1.8 0h3.6m-1.8-1.8v3.6m-1.27-0.53l2.54-2.54m0 2.54l-2.54-2.54M460.76 395.39m-1.8 0h3.6m-1.8-1.8v3.6m-1.27-0.53l2.54-2.54m0 2.54l-2.54-2.54M461.93 395.53m-1.8 0h3.6m-1.8-1.8v3.6m-1.27-0.53l2.54-2.54m0 2.54l-2.54-2.54M463.09 395.67m-1.8 0h3.6m-1.8-1.8v3.6m-1.27-0.53l2.54-2.54m0 2.54l-2.54-2.54M464.26 395.81m-1.8 0h3.6m-1.8-1.8v3.6m-1.27-0.53l2.54-2.54m0 2.54l-2.54-2.54M465.43 395.95m-1.8 0h3.6m-1.8-1.8v3.6m-1.27-0.53l2.54-2.54m0 2.54l-2.54-2.54M466.6 396.09m-1.8 0h3.6m-1.8-1.8v3.6m-1.27-0.53l2.54-2.54m0 2.54l-2.54-2.54M467.76 396.21m-1.8 0h3.6m-1.8-1.8v3.6m-1.27-0.53l2.54-2.54m0 2.54l-2.54-2.54M468.93 396.28m-1.8 0h3.6m-1.8-1.8v3.6m-1.27-0.53l2.54-2.54m0 2.54l-2.54-2.54M470.1 396.34m-1.8 0h3.6m-1.8-1.8v3.6m-1.27-0.53l2.54-2.54m0 2.54l-2.54-2.54M471.27 396.4m-1.8 0h3.6m-1.8-1.8v3.6m-1.27-0.53l2.54-2.54m0 2.54l-2.54-2.54M472.43 396.46m-1.8 0h3.6m-1.8-1.8v3.6m-1.27-0.53l2.54-2.54m0 2.54l-2.54-2.54M473.6 396.53m-1.8 0h3.6m-1.8-1.8v3.6m-1.27-0.53l2.54-2.54m0 2.54l-2.54-2.54M474.77 396.59m-1.8 0h3.6m-1.8-1.8v3.6m-1.27-0.53l2.54-2.54m0 2.54l-2.54-2.54M475.94 396.66m-1.8 0h3.6m-1.8-1.8v3.6m-1.27-0.53l2.54-2.54m0 2.54l-2.54-2.54M477.1 396.73m-1.8 0h3.6m-1.8-1.8v3.6m-1.27-0.53l2.54-2.54m0 2.54l-2.54-2.54M478.27 396.8m-1.8 0h3.6m-1.8-1.8v3.6m-1.27-0.53l2.54-2.54m0 2.54l-2.54-2.54M479.44 396.87m-1.8 0h3.6m-1.8-1.8v3.6m-1.27-0.53l2.54-2.54m0 2.54l-2.54-2.54M480.61 396.92m-1.8 0h3.6m-1.8-1.8v3.6m-1.27-0.53l2.54-2.54m0 2.54l-2.54-2.54M481.77 396.95m-1.8 0h3.6m-1.8-1.8v3.6m-1.27-0.53l2.54-2.54m0 2.54l-2.54-2.54M482.94 396.99m-1.8 0h3.6m-1.8-1.8v3.6m-1.27-0.53l2.54-2.54m0 2.54l-2.54-2.54M484.11 397.02m-1.8 0h3.6m-1.8-1.8v3.6m-1.27-0.53l2.54-2.54m0 2.54l-2.54-2.54M485.28 397.06m-1.8 0h3.6m-1.8-1.8v3.6m-1.27-0.53l2.54-2.54m0 2.54l-2.54-2.54M486.44 397.09m-1.8 0h3.6m-1.8-1.8v3.6m-1.27-0.53l2.54-2.54m0 2.54l-2.54-2.54M487.61 397.13m-1.8 0h3.6m-1.8-1.8v3.6m-1.27-0.53l2.54-2.54m0 2.54l-2.54-2.54M488.78 397.16m-1.8 0h3.6m-1.8-1.8v3.6m-1.27-0.53l2.54-2.54m0 2.54l-2.54-2.54M489.95 397.2m-1.8 0h3.6m-1.8-1.8v3.6m-1.27-0.53l2.54-2.54m0 2.54l-2.54-2.54M491.12 397.21m-1.8 0h3.6m-1.8-1.8v3.6m-1.27-0.53l2.54-2.54m0 2.54l-2.54-2.54M492.28 397.22m-1.8 0h3.6m-1.8-1.8v3.6m-1.27-0.53l2.54-2.54m0 2.54l-2.54-2.54M493.45 397.24m-1.8 0h3.6m-1.8-1.8v3.6m-1.27-0.53l2.54-2.54m0 2.54l-2.54-2.54M494.62 397.25m-1.8 0h3.6m-1.8-1.8v3.6m-1.27-0.53l2.54-2.54m0 2.54l-2.54-2.54M495.78 397.26m-1.8 0h3.6m-1.8-1.8v3.6m-1.27-0.53l2.54-2.54m0 2.54l-2.54-2.54M496.95 397.27m-1.8 0h3.6m-1.8-1.8v3.6m-1.27-0.53l2.54-2.54m0 2.54l-2.54-2.54M498.12 397.29m-1.8 0h3.6m-1.8-1.8v3.6m-1.27-0.53l2.54-2.54m0 2.54l-2.54-2.54M499.29 397.3m-1.8 0h3.6m-1.8-1.8v3.6m-1.27-0.53l2.54-2.54m0 2.54l-2.54-2.54M500.45 397.31m-1.8 0h3.6m-1.8-1.8v3.6m-1.27-0.53l2.54-2.54m0 2.54l-2.54-2.54M501.62 397.32m-1.8 0h3.6m-1.8-1.8v3.6m-1.27-0.53l2.54-2.54m0 2.54l-2.54-2.54M502.79 397.33m-1.8 0h3.6m-1.8-1.8v3.6m-1.27-0.53l2.54-2.54m0 2.54l-2.54-2.54M503.96 397.35m-1.8 0h3.6m-1.8-1.8v3.6m-1.27-0.53l2.54-2.54m0 2.54l-2.54-2.54M505.12 397.36m-1.8 0h3.6m-1.8-1.8v3.6m-1.27-0.53l2.54-2.54m0 2.54l-2.54-2.54M506.29 397.37m-1.8 0h3.6m-1.8-1.8v3.6m-1.27-0.53l2.54-2.54m0 2.54l-2.54-2.54M507.46 397.38m-1.8 0h3.6m-1.8-1.8v3.6m-1.27-0.53l2.54-2.54m0 2.54l-2.54-2.54M508.63 397.4m-1.8 0h3.6m-1.8-1.8v3.6m-1.27-0.53l2.54-2.54m0 2.54l-2.54-2.54M509.79 397.41m-1.8 0h3.6m-1.8-1.8v3.6m-1.27-0.53l2.54-2.54m0 2.54l-2.54-2.54M510.96 397.42m-1.8 0h3.6m-1.8-1.8v3.6m-1.27-0.53l2.54-2.54m0 2.54l-2.54-2.54M512.13 397.42m-1.8 0h3.6m-1.8-1.8v3.6m-1.27-0.53l2.54-2.54m0 2.54l-2.54-2.54M513.3 397.43m-1.8 0h3.6m-1.8-1.8v3.6m-1.27-0.53l2.54-2.54m0 2.54l-2.54-2.54M514.46 397.44m-1.8 0h3.6m-1.8-1.8v3.6m-1.27-0.53l2.54-2.54m0 2.54l-2.54-2.54M515.63 397.45m-1.8 0h3.6m-1.8-1.8v3.6m-1.27-0.53l2.54-2.54m0 2.54l-2.54-2.54M516.8 397.46m-1.8 0h3.6m-1.8-1.8v3.6m-1.27-0.53l2.54-2.54m0 2.54l-2.54-2.54M517.97 397.47m-1.8 0h3.6m-1.8-1.8v3.6m-1.27-0.53l2.54-2.54m0 2.54l-2.54-2.54M519.13 397.48m-1.8 0h3.6m-1.8-1.8v3.6m-1.27-0.53l2.54-2.54m0 2.54l-2.54-2.54M520.3 397.49m-1.8 0h3.6m-1.8-1.8v3.6m-1.27-0.53l2.54-2.54m0 2.54l-2.54-2.54M521.47 397.5m-1.8 0h3.6m-1.8-1.8v3.6m-1.27-0.53l2.54-2.54m0 2.54l-2.54-2.54M522.64 397.5m-1.8 0h3.6m-1.8-1.8v3.6m-1.27-0.53l2.54-2.54m0 2.54l-2.54-2.54M523.8 397.51m-1.8 0h3.6m-1.8-1.8v3.6m-1.27-0.53l2.54-2.54m0 2.54l-2.54-2.54M524.97 397.52m-1.8 0h3.6m-1.8-1.8v3.6m-1.27-0.53l2.54-2.54m0 2.54l-2.54-2.54M526.14 397.53m-1.8 0h3.6m-1.8-1.8v3.6m-1.27-0.53l2.54-2.54m0 2.54l-2.54-2.54M527.31 397.54m-1.8 0h3.6m-1.8-1.8v3.6m-1.27-0.53l2.54-2.54m0 2.54l-2.54-2.54M528.48 397.55m-1.8 0h3.6m-1.8-1.8v3.6m-1.27-0.53l2.54-2.54m0 2.54l-2.54-2.54M529.64 397.56m-1.8 0h3.6m-1.8-1.8v3.6m-1.27-0.53l2.54-2.54m0 2.54l-2.54-2.54M530.81 397.57m-1.8 0h3.6m-1.8-1.8v3.6m-1.27-0.53l2.54-2.54m0 2.54l-2.54-2.54M531.98 397.58m-1.8 0h3.6m-1.8-1.8v3.6m-1.27-0.53l2.54-2.54m0 2.54l-2.54-2.54M533.14 397.59m-1.8 0h3.6m-1.8-1.8v3.6m-1.27-0.53l2.54-2.54m0 2.54l-2.54-2.54M534.31 397.59m-1.8 0h3.6m-1.8-1.8v3.6m-1.27-0.53l2.54-2.54m0 2.54l-2.54-2.54M535.48 397.6m-1.8 0h3.6m-1.8-1.8v3.6m-1.27-0.53l2.54-2.54m0 2.54l-2.54-2.54M536.65 397.61m-1.8 0h3.6m-1.8-1.8v3.6m-1.27-0.53l2.54-2.54m0 2.54l-2.54-2.54M537.81 397.62m-1.8 0h3.6m-1.8-1.8v3.6m-1.27-0.53l2.54-2.54m0 2.54l-2.54-2.54M538.98 397.63m-1.8 0h3.6m-1.8-1.8v3.6m-1.27-0.53l2.54-2.54m0 2.54l-2.54-2.54M540.15 397.64m-1.8 0h3.6m-1.8-1.8v3.6m-1.27-0.53l2.54-2.54m0 2.54l-2.54-2.54M541.32 397.65m-1.8 0h3.6m-1.8-1.8v3.6m-1.27-0.53l2.54-2.54m0 2.54l-2.54-2.54M542.49 397.66m-1.8 0h3.6m-1.8-1.8v3.6m-1.27-0.53l2.54-2.54m0 2.54l-2.54-2.54M543.65 397.67m-1.8 0h3.6m-1.8-1.8v3.6m-1.27-0.53l2.54-2.54m0 2.54l-2.54-2.54M544.82 397.68m-1.8 0h3.6m-1.8-1.8v3.6m-1.27-0.53l2.54-2.54m0 2.54l-2.54-2.54M545.99 397.68m-1.8 0h3.6m-1.8-1.8v3.6m-1.27-0.53l2.54-2.54m0 2.54l-2.54-2.54M547.15 397.69m-1.8 0h3.6m-1.8-1.8v3.6m-1.27-0.53l2.54-2.54m0 2.54l-2.54-2.54M548.32 397.7m-1.8 0h3.6m-1.8-1.8v3.6m-1.27-0.53l2.54-2.54m0 2.54l-2.54-2.54M549.49 397.71m-1.8 0h3.6m-1.8-1.8v3.6m-1.27-0.53l2.54-2.54m0 2.54l-2.54-2.54M550.66 397.72m-1.8 0h3.6m-1.8-1.8v3.6m-1.27-0.53l2.54-2.54m0 2.54l-2.54-2.54M551.83 397.73m-1.8 0h3.6m-1.8-1.8v3.6m-1.27-0.53l2.54-2.54m0 2.54l-2.54-2.54M552.99 397.75m-1.8 0h3.6m-1.8-1.8v3.6m-1.27-0.53l2.54-2.54m0 2.54l-2.54-2.54M554.16 397.76m-1.8 0h3.6m-1.8-1.8v3.6m-1.27-0.53l2.54-2.54m0 2.54l-2.54-2.54M555.33 397.77m-1.8 0h3.6m-1.8-1.8v3.6m-1.27-0.53l2.54-2.54m0 2.54l-2.54-2.54M556.5 397.78m-1.8 0h3.6m-1.8-1.8v3.6m-1.27-0.53l2.54-2.54m0 2.54l-2.54-2.54M557.66 397.79m-1.8 0h3.6m-1.8-1.8v3.6m-1.27-0.53l2.54-2.54m0 2.54l-2.54-2.54M558.83 397.8m-1.8 0h3.6m-1.8-1.8v3.6m-1.27-0.53l2.54-2.54m0 2.54l-2.54-2.54M560 397.81m-1.8 0h3.6m-1.8-1.8v3.6m-1.27-0.53l2.54-2.54m0 2.54l-2.54-2.54M561.16 397.82m-1.8 0h3.6m-1.8-1.8v3.6m-1.27-0.53l2.54-2.54m0 2.54l-2.54-2.54M562.33 397.83m-1.8 0h3.6m-1.8-1.8v3.6m-1.27-0.53l2.54-2.54m0 2.54l-2.54-2.54M563.5 397.84m-1.8 0h3.6m-1.8-1.8v3.6m-1.27-0.53l2.54-2.54m0 2.54l-2.54-2.54M564.67 397.85m-1.8 0h3.6m-1.8-1.8v3.6m-1.27-0.53l2.54-2.54m0 2.54l-2.54-2.54M565.84 397.86m-1.8 0h3.6m-1.8-1.8v3.6m-1.27-0.53l2.54-2.54m0 2.54l-2.54-2.54M567 397.87m-1.8 0h3.6m-1.8-1.8v3.6m-1.27-0.53l2.54-2.54m0 2.54l-2.54-2.54M568.17 397.88m-1.8 0h3.6m-1.8-1.8v3.6m-1.27-0.53l2.54-2.54m0 2.54l-2.54-2.54M569.34 397.89m-1.8 0h3.6m-1.8-1.8v3.6m-1.27-0.53l2.54-2.54m0 2.54l-2.54-2.54M570.5 397.91m-1.8 0h3.6m-1.8-1.8v3.6m-1.27-0.53l2.54-2.54m0 2.54l-2.54-2.54M571.67 397.93m-1.8 0h3.6m-1.8-1.8v3.6m-1.27-0.53l2.54-2.54m0 2.54l-2.54-2.54M572.84 397.95m-1.8 0h3.6m-1.8-1.8v3.6m-1.27-0.53l2.54-2.54m0 2.54l-2.54-2.54M574.01 397.98m-1.8 0h3.6m-1.8-1.8v3.6m-1.27-0.53l2.54-2.54m0 2.54l-2.54-2.54M575.17 398m-1.8 0h3.6m-1.8-1.8v3.6m-1.27-0.53l2.54-2.54m0 2.54l-2.54-2.54M576.34 398.02m-1.8 0h3.6m-1.8-1.8v3.6m-1.27-0.53l2.54-2.54m0 2.54l-2.54-2.54M577.51 398.04m-1.8 0h3.6m-1.8-1.8v3.6m-1.27-0.53l2.54-2.54m0 2.54l-2.54-2.54M578.68 398.07m-1.8 0h3.6m-1.8-1.8v3.6m-1.27-0.53l2.54-2.54m0 2.54l-2.54-2.54M579.85 398.09m-1.8 0h3.6m-1.8-1.8v3.6m-1.27-0.53l2.54-2.54m0 2.54l-2.54-2.54M581.01 398.11m-1.8 0h3.6m-1.8-1.8v3.6m-1.27-0.53l2.54-2.54m0 2.54l-2.54-2.54M582.18 398.13m-1.8 0h3.6m-1.8-1.8v3.6m-1.27-0.53l2.54-2.54m0 2.54l-2.54-2.54M583.35 398.16m-1.8 0h3.6m-1.8-1.8v3.6m-1.27-0.53l2.54-2.54m0 2.54l-2.54-2.54M584.51 398.18m-1.8 0h3.6m-1.8-1.8v3.6m-1.27-0.53l2.54-2.54m0 2.54l-2.54-2.54M585.68 398.2m-1.8 0h3.6m-1.8-1.8v3.6m-1.27-0.53l2.54-2.54m0 2.54l-2.54-2.54M586.85 398.22m-1.8 0h3.6m-1.8-1.8v3.6m-1.27-0.53l2.54-2.54m0 2.54l-2.54-2.54M588.02 398.25m-1.8 0h3.6m-1.8-1.8v3.6m-1.27-0.53l2.54-2.54m0 2.54l-2.54-2.54M589.18 398.27m-1.8 0h3.6m-1.8-1.8v3.6m-1.27-0.53l2.54-2.54m0 2.54l-2.54-2.54M590.35 398.29m-1.8 0h3.6m-1.8-1.8v3.6m-1.27-0.53l2.54-2.54m0 2.54l-2.54-2.54M591.52 398.31m-1.8 0h3.6m-1.8-1.8v3.6m-1.27-0.53l2.54-2.54m0 2.54l-2.54-2.54M592.69 398.34m-1.8 0h3.6m-1.8-1.8v3.6m-1.27-0.53l2.54-2.54m0 2.54l-2.54-2.54M593.86 398.36m-1.8 0h3.6m-1.8-1.8v3.6m-1.27-0.53l2.54-2.54m0 2.54l-2.54-2.54M595.02 398.38m-1.8 0h3.6m-1.8-1.8v3.6m-1.27-0.53l2.54-2.54m0 2.54l-2.54-2.54M596.19 398.41m-1.8 0h3.6m-1.8-1.8v3.6m-1.27-0.53l2.54-2.54m0 2.54l-2.54-2.54M597.36 398.45m-1.8 0h3.6m-1.8-1.8v3.6m-1.27-0.53l2.54-2.54m0 2.54l-2.54-2.54M598.52 398.49m-1.8 0h3.6m-1.8-1.8v3.6m-1.27-0.53l2.54-2.54m0 2.54l-2.54-2.54M599.69 398.54m-1.8 0h3.6m-1.8-1.8v3.6m-1.27-0.53l2.54-2.54m0 2.54l-2.54-2.54M600.86 398.58m-1.8 0h3.6m-1.8-1.8v3.6m-1.27-0.53l2.54-2.54m0 2.54l-2.54-2.54M602.03 398.63m-1.8 0h3.6m-1.8-1.8v3.6m-1.27-0.53l2.54-2.54m0 2.54l-2.54-2.54M603.19 398.67m-1.8 0h3.6m-1.8-1.8v3.6m-1.27-0.53l2.54-2.54m0 2.54l-2.54-2.54M604.36 398.71m-1.8 0h3.6m-1.8-1.8v3.6m-1.27-0.53l2.54-2.54m0 2.54l-2.54-2.54M605.53 398.76m-1.8 0h3.6m-1.8-1.8v3.6m-1.27-0.53l2.54-2.54m0 2.54l-2.54-2.54M606.7 398.8m-1.8 0h3.6m-1.8-1.8v3.6m-1.27-0.53l2.54-2.54m0 2.54l-2.54-2.54M607.87 398.84m-1.8 0h3.6m-1.8-1.8v3.6m-1.27-0.53l2.54-2.54m0 2.54l-2.54-2.54M609.03 398.89m-1.8 0h3.6m-1.8-1.8v3.6m-1.27-0.53l2.54-2.54m0 2.54l-2.54-2.54M610.2 398.93m-1.8 0h3.6m-1.8-1.8v3.6m-1.27-0.53l2.54-2.54m0 2.54l-2.54-2.54M611.37 398.98m-1.8 0h3.6m-1.8-1.8v3.6m-1.27-0.53l2.54-2.54m0 2.54l-2.54-2.54M612.53 399.02m-1.8 0h3.6m-1.8-1.8v3.6m-1.27-0.53l2.54-2.54m0 2.54l-2.54-2.54M613.7 399.06m-1.8 0h3.6m-1.8-1.8v3.6m-1.27-0.53l2.54-2.54m0 2.54l-2.54-2.54M614.87 399.11m-1.8 0h3.6m-1.8-1.8v3.6m-1.27-0.53l2.54-2.54m0 2.54l-2.54-2.54M616.04 399.15m-1.8 0h3.6m-1.8-1.8v3.6m-1.27-0.53l2.54-2.54m0 2.54l-2.54-2.54M617.2 399.2m-1.8 0h3.6m-1.8-1.8v3.6m-1.27-0.53l2.54-2.54m0 2.54l-2.54-2.54M618.37 399.24m-1.8 0h3.6m-1.8-1.8v3.6m-1.27-0.53l2.54-2.54m0 2.54l-2.54-2.54M619.54 399.28m-1.8 0h3.6m-1.8-1.8v3.6m-1.27-0.53l2.54-2.54m0 2.54l-2.54-2.54M620.71 399.36m-1.8 0h3.6m-1.8-1.8v3.6m-1.27-0.53l2.54-2.54m0 2.54l-2.54-2.54M621.88 399.47m-1.8 0h3.6m-1.8-1.8v3.6m-1.27-0.53l2.54-2.54m0 2.54l-2.54-2.54M623.04 399.58m-1.8 0h3.6m-1.8-1.8v3.6m-1.27-0.53l2.54-2.54m0 2.54l-2.54-2.54M624.21 399.68m-1.8 0h3.6m-1.8-1.8v3.6m-1.27-0.53l2.54-2.54m0 2.54l-2.54-2.54M625.38 399.79m-1.8 0h3.6m-1.8-1.8v3.6m-1.27-0.53l2.54-2.54m0 2.54l-2.54-2.54M626.54 399.9m-1.8 0h3.6m-1.8-1.8v3.6m-1.27-0.53l2.54-2.54m0 2.54l-2.54-2.54M627.71 400m-1.8 0h3.6m-1.8-1.8v3.6m-1.27-0.53l2.54-2.54m0 2.54l-2.54-2.54M628.88 400.11m-1.8 0h3.6m-1.8-1.8v3.6m-1.27-0.53l2.54-2.54m0 2.54l-2.54-2.54M630.05 400.21m-1.8 0h3.6m-1.8-1.8v3.6m-1.27-0.53l2.54-2.54m0 2.54l-2.54-2.54M631.21 400.32m-1.8 0h3.6m-1.8-1.8v3.6m-1.27-0.53l2.54-2.54m0 2.54l-2.54-2.54M632.38 400.43m-1.8 0h3.6m-1.8-1.8v3.6m-1.27-0.53l2.54-2.54m0 2.54l-2.54-2.54M633.55 400.53m-1.8 0h3.6m-1.8-1.8v3.6m-1.27-0.53l2.54-2.54m0 2.54l-2.54-2.54M634.72 400.7m-1.8 0h3.6m-1.8-1.8v3.6m-1.27-0.53l2.54-2.54m0 2.54l-2.54-2.54M635.88 400.96m-1.8 0h3.6m-1.8-1.8v3.6m-1.27-0.53l2.54-2.54m0 2.54l-2.54-2.54M637.05 401.23m-1.8 0h3.6m-1.8-1.8v3.6m-1.27-0.53l2.54-2.54m0 2.54l-2.54-2.54M638.22 401.5m-1.8 0h3.6m-1.8-1.8v3.6m-1.27-0.53l2.54-2.54m0 2.54l-2.54-2.54M639.39 401.77m-1.8 0h3.6m-1.8-1.8v3.6m-1.27-0.53l2.54-2.54m0 2.54l-2.54-2.54M640.55 402.03m-1.8 0h3.6m-1.8-1.8v3.6m-1.27-0.53l2.54-2.54m0 2.54l-2.54-2.54M641.72 402.3m-1.8 0h3.6m-1.8-1.8v3.6m-1.27-0.53l2.54-2.54m0 2.54l-2.54-2.54M642.89 402.57m-1.8 0h3.6m-1.8-1.8v3.6m-1.27-0.53l2.54-2.54m0 2.54l-2.54-2.54M644.06 402.85m-1.8 0h3.6m-1.8-1.8v3.6m-1.27-0.53l2.54-2.54m0 2.54l-2.54-2.54M645.22 403.24m-1.8 0h3.6m-1.8-1.8v3.6m-1.27-0.53l2.54-2.54m0 2.54l-2.54-2.54M646.39 403.63m-1.8 0h3.6m-1.8-1.8v3.6m-1.27-0.53l2.54-2.54m0 2.54l-2.54-2.54M647.56 404.02m-1.8 0h3.6m-1.8-1.8v3.6m-1.27-0.53l2.54-2.54m0 2.54l-2.54-2.54M648.73 404.41m-1.8 0h3.6m-1.8-1.8v3.6m-1.27-0.53l2.54-2.54m0 2.54l-2.54-2.54M649.89 404.8m-1.8 0h3.6m-1.8-1.8v3.6m-1.27-0.53l2.54-2.54m0 2.54l-2.54-2.54M651.06 405.19m-1.8 0h3.6m-1.8-1.8v3.6m-1.27-0.53l2.54-2.54m0 2.54l-2.54-2.54M652.23 405.88m-1.8 0h3.6m-1.8-1.8v3.6m-1.27-0.53l2.54-2.54m0 2.54l-2.54-2.54M653.4 406.58m-1.8 0h3.6m-1.8-1.8v3.6m-1.27-0.53l2.54-2.54m0 2.54l-2.54-2.54M654.56 407.28m-1.8 0h3.6m-1.8-1.8v3.6m-1.27-0.53l2.54-2.54m0 2.54l-2.54-2.54M655.73 407.98m-1.8 0h3.6m-1.8-1.8v3.6m-1.27-0.53l2.54-2.54m0 2.54l-2.54-2.54M656.9 408.68m-1.8 0h3.6m-1.8-1.8v3.6m-1.27-0.53l2.54-2.54m0 2.54l-2.54-2.54" stroke="#e23c3c" stroke-width="0.85" fill="none"/>
<path d="M423.9 478.3H657.4M423.9 655.8H657.4" stroke="#8e8e8e" stroke-width="1.05" fill="none"/>
<path d="M424.4 478.3V655.8M656.9 478.3V655.8" stroke="#a2a2a2" stroke-width="1.2" fill="none"/>
<path d="M424.4 655.8v-2.4M424.4 478.3v2.4M470.9 655.8v-2.4M470.9 478.3v2.4M517.4 655.8v-2.4M517.4 478.3v2.4M563.9 655.8v-2.4M563.9 478.3v2.4M610.4 655.8v-2.4M610.4 478.3v2.4M656.9 655.8v-2.4M656.9 478.3v2.4M424.4 478.3h2.4M656.9 478.3h-2.4M424.4 513.8h2.4M656.9 513.8h-2.4M424.4 549.3h2.4M656.9 549.3h-2.4M424.4 584.8h2.4M656.9 584.8h-2.4M424.4 620.3h2.4M656.9 620.3h-2.4M424.4 655.8h2.4M656.9 655.8h-2.4" stroke="#959595" stroke-width="1" fill="none"/>
<text x="424.4" y="670.9" font-size="10.7" text-anchor="middle" fill="#262626" stroke="#262626" stroke-width="0.2">0</text>
<text x="470.9" y="670.9" font-size="10.7" text-anchor="middle" fill="#262626" stroke="#262626" stroke-width="0.2">20</text>
<text x="517.4" y="670.9" font-size="10.7" text-anchor="middle" fill="#262626" stroke="#262626" stroke-width="0.2">40</text>
<text x="563.9" y="670.9" font-size="10.7" text-anchor="middle" fill="#262626" stroke="#262626" stroke-width="0.2">60</text>
<text x="610.4" y="670.9" font-size="10.7" text-anchor="middle" fill="#262626" stroke="#262626" stroke-width="0.2">80</text>
<text x="656.9" y="670.9" font-size="10.7" text-anchor="middle" fill="#262626" stroke="#262626" stroke-width="0.2">100</text>
<text x="419.7" y="482.9" font-size="10.7" text-anchor="end" fill="#262626" stroke="#262626" stroke-width="0.2">400</text>
<text x="419.7" y="518.4" font-size="10.7" text-anchor="end" fill="#262626" stroke="#262626" stroke-width="0.2">300</text>
<text x="419.7" y="553.9" font-size="10.7" text-anchor="end" fill="#262626" stroke="#262626" stroke-width="0.2">200</text>
<text x="419.7" y="589.4" font-size="10.7" text-anchor="end" fill="#262626" stroke="#262626" stroke-width="0.2">100</text>
<text x="419.7" y="624.9" font-size="10.7" text-anchor="end" fill="#262626" stroke="#262626" stroke-width="0.2">0</text>
<text x="419.7" y="660.4" font-size="10.7" text-anchor="end" fill="#262626" stroke="#262626" stroke-width="0.2">-100</text>
<text x="540.95" y="475.2" font-size="11.85" text-anchor="middle" font-weight="bold" fill="#000">MDS for Testudines</text>
<text x="540.65" y="685.6" font-size="11.8" text-anchor="middle" fill="#262626" stroke="#262626" stroke-width="0.2">rank</text>
<text x="0" y="0" font-size="11.8" text-anchor="middle" fill="#262626" stroke="#262626" stroke-width="0.2" transform="translate(394.9 567.05) rotate(-90)">eigenvalue</text>
<path d="M426.1 504.9m-1.8 0h3.6m-1.8-1.8v3.6m-1.27-0.53l2.54-2.54m0 2.54l-2.54-2.54M428.6 573.5m-1.8 0h3.6m-1.8-1.8v3.6m-1.27-0.53l2.54-2.54m0 2.54l-2.54-2.54M430.9 583.2m-1.8 0h3.6m-1.8-1.8v3.6m-1.27-0.53l2.54-2.54m0 2.54l-2.54-2.54M433.3 588.8m-1.8 0h3.6m-1.8-1.8v3.6m-1.27-0.53l2.54-2.54m0 2.54l-2.54-2.54M435.6 599.8m-1.8 0h3.6m-1.8-1.8v3.6m-1.27-0.53l2.54-2.54m0 2.54l-2.54-2.54M437.9 602.2m-1.8 0h3.6m-1.8-1.8v3.6m-1.27-0.53l2.54-2.54m0 2.54l-2.54-2.54M440.1 603.7m-1.8 0h3.6m-1.8-1.8v3.6m-1.27-0.53l2.54-2.54m0 2.54l-2.54-2.54M442.7 607m-1.8 0h3.6m-1.8-1.8v3.6m-1.27-0.53l2.54-2.54m0 2.54l-2.54-2.54M444.9 607.1m-1.8 0h3.6m-1.8-1.8v3.6m-1.27-0.53l2.54-2.54m0 2.54l-2.54-2.54M447.3 610.3m-1.8 0h3.6m-1.8-1.8v3.6m-1.27-0.53l2.54-2.54m0 2.54l-2.54-2.54" stroke="#3a3ad8" stroke-width="0.85" fill="none"/>
<path d="M449.97 612.33m-1.8 0h3.6m-1.8-1.8v3.6m-1.27-0.53l2.54-2.54m0 2.54l-2.54-2.54M452.3 613.43m-1.8 0h3.6m-1.8-1.8v3.6m-1.27-0.53l2.54-2.54m0 2.54l-2.54-2.54M454.62 614.52m-1.8 0h3.6m-1.8-1.8v3.6m-1.27-0.53l2.54-2.54m0 2.54l-2.54-2.54M456.95 615.24m-1.8 0h3.6m-1.8-1.8v3.6m-1.27-0.53l2.54-2.54m0 2.54l-2.54-2.54M459.27 615.89m-1.8 0h3.6m-1.8-1.8v3.6m-1.27-0.53l2.54-2.54m0 2.54l-2.54-2.54M461.6 616.46m-1.8 0h3.6m-1.8-1.8v3.6m-1.27-0.53l2.54-2.54m0 2.54l-2.54-2.54M463.92 617.02m-1.8 0h3.6m-1.8-1.8v3.6m-1.27-0.53l2.54-2.54m0 2.54l-2.54-2.54M466.25 617.56m-1.8 0h3.6m-1.8-1.8v3.6m-1.27-0.53l2.54-2.54m0 2.54l-2.54-2.54M468.57 618.04m-1.8 0h3.6m-1.8-1.8v3.6m-1.27-0.53l2.54-2.54m0 2.54l-2.54-2.54M470.9 618.47m-1.8 0h3.6m-1.8-1.8v3.6m-1.27-0.53l2.54-2.54m0 2.54l-2.54-2.54M473.22 618.84m-1.8 0h3.6m-1.8-1.8v3.6m-1.27-0.53l2.54-2.54m0 2.54l-2.54-2.54M475.55 619.2m-1.8 0h3.6m-1.8-1.8v3.6m-1.27-0.53l2.54-2.54m0 2.54l-2.54-2.54M477.88 619.44m-1.8 0h3.6m-1.8-1.8v3.6m-1.27-0.53l2.54-2.54m0 2.54l-2.54-2.54M480.2 619.53m-1.8 0h3.6m-1.8-1.8v3.6m-1.27-0.53l2.54-2.54m0 2.54l-2.54-2.54M482.52 619.62m-1.8 0h3.6m-1.8-1.8v3.6m-1.27-0.53l2.54-2.54m0 2.54l-2.54-2.54M484.85 619.7m-1.8 0h3.6m-1.8-1.8v3.6m-1.27-0.53l2.54-2.54m0 2.54l-2.54-2.54M487.17 619.79m-1.8 0h3.6m-1.8-1.8v3.6m-1.27-0.53l2.54-2.54m0 2.54l-2.54-2.54M489.5 619.88m-1.8 0h3.6m-1.8-1.8v3.6m-1.27-0.53l2.54-2.54m0 2.54l-2.54-2.54M491.82 620.01m-1.8 0h3.6m-1.8-1.8v3.6m-1.27-0.53l2.54-2.54m0 2.54l-2.54-2.54M494.15 620.15m-1.8 0h3.6m-1.8-1.8v3.6m-1.27-0.53l2.54-2.54m0 2.54l-2.54-2.54M496.47 620.3m-1.8 0h3.6m-1.8-1.8v3.6m-1.27-0.53l2.54-2.54m0 2.54l-2.54-2.54M498.8 620.44m-1.8 0h3.6m-1.8-1.8v3.6m-1.27-0.53l2.54-2.54m0 2.54l-2.54-2.54M501.12 620.51m-1.8 0h3.6m-1.8-1.8v3.6m-1.27-0.53l2.54-2.54m0 2.54l-2.54-2.54M503.45 620.54m-1.8 0h3.6m-1.8-1.8v3.6m-1.27-0.53l2.54-2.54m0 2.54l-2.54-2.54M505.77 620.56m-1.8 0h3.6m-1.8-1.8v3.6m-1.27-0.53l2.54-2.54m0 2.54l-2.54-2.54M508.1 620.58m-1.8 0h3.6m-1.8-1.8v3.6m-1.27-0.53l2.54-2.54m0 2.54l-2.54-2.54M510.42 620.6m-1.8 0h3.6m-1.8-1.8v3.6m-1.27-0.53l2.54-2.54m0 2.54l-2.54-2.54M512.75 620.63m-1.8 0h3.6m-1.8-1.8v3.6m-1.27-0.53l2.54-2.54m0 2.54l-2.54-2.54M515.08 620.65m-1.8 0h3.6m-1.8-1.8v3.6m-1.27-0.53l2.54-2.54m0 2.54l-2.54-2.54M517.4 620.67m-1.8 0h3.6m-1.8-1.8v3.6m-1.27-0.53l2.54-2.54m0 2.54l-2.54-2.54M519.73 620.69m-1.8 0h3.6m-1.8-1.8v3.6m-1.27-0.53l2.54-2.54m0 2.54l-2.54-2.54M522.05 620.72m-1.8 0h3.6m-1.8-1.8v3.6m-1.27-0.53l2.54-2.54m0 2.54l-2.54-2.54M524.38 620.74m-1.8 0h3.6m-1.8-1.8v3.6m-1.27-0.53l2.54-2.54m0 2.54l-2.54-2.54M526.7 620.76m-1.8 0h3.6m-1.8-1.8v3.6m-1.27-0.53l2.54-2.54m0 2.54l-2.54-2.54M529.02 620.78m-1.8 0h3.6m-1.8-1.8v3.6m-1.27-0.53l2.54-2.54m0 2.54l-2.54-2.54M531.35 620.81m-1.8 0h3.6m-1.8-1.8v3.6m-1.27-0.53l2.54-2.54m0 2.54l-2.54-2.54M533.67 620.83m-1.8 0h3.6m-1.8-1.8v3.6m-1.27-0.53l2.54-2.54m0 2.54l-2.54-2.54M536 620.85m-1.8 0h3.6m-1.8-1.8v3.6m-1.27-0.53l2.54-2.54m0 2.54l-2.54-2.54M538.33 620.87m-1.8 0h3.6m-1.8-1.8v3.6m-1.27-0.53l2.54-2.54m0 2.54l-2.54-2.54M540.65 620.9m-1.8 0h3.6m-1.8-1.8v3.6m-1.27-0.53l2.54-2.54m0 2.54l-2.54-2.54M542.98 620.93m-1.8 0h3.6m-1.8-1.8v3.6m-1.27-0.53l2.54-2.54m0 2.54l-2.54-2.54M545.3 620.97m-1.8 0h3.6m-1.8-1.8v3.6m-1.27-0.53l2.54-2.54m0 2.54l-2.54-2.54M547.62 621m-1.8 0h3.6m-1.8-1.8v3.6m-1.27-0.53l2.54-2.54m0 2.54l-2.54-2.54M549.95 621.04m-1.8 0h3.6m-1.8-1.8v3.6m-1.27-0.53l2.54-2.54m0 2.54l-2.54-2.54M552.27 621.08m-1.8 0h3.6m-1.8-1.8v3.6m-1.27-0.53l2.54-2.54m0 2.54l-2.54-2.54M554.6 621.11m-1.8 0h3.6m-1.8-1.8v3.6m-1.27-0.53l2.54-2.54m0 2.54l-2.54-2.54M556.92 621.15m-1.8 0h3.6m-1.8-1.8v3.6m-1.27-0.53l2.54-2.54m0 2.54l-2.54-2.54M559.25 621.19m-1.8 0h3.6m-1.8-1.8v3.6m-1.27-0.53l2.54-2.54m0 2.54l-2.54-2.54M561.58 621.22m-1.8 0h3.6m-1.8-1.8v3.6m-1.27-0.53l2.54-2.54m0 2.54l-2.54-2.54M563.9 621.26m-1.8 0h3.6m-1.8-1.8v3.6m-1.27-0.53l2.54-2.54m0 2.54l-2.54-2.54M566.23 621.3m-1.8 0h3.6m-1.8-1.8v3.6m-1.27-0.53l2.54-2.54m0 2.54l-2.54-2.54M568.55 621.33m-1.8 0h3.6m-1.8-1.8v3.6m-1.27-0.53l2.54-2.54m0 2.54l-2.54-2.54M570.88 621.37m-1.8 0h3.6m-1.8-1.8v3.6m-1.27-0.53l2.54-2.54m0 2.54l-2.54-2.54M573.2 621.41m-1.8 0h3.6m-1.8-1.8v3.6m-1.27-0.53l2.54-2.54m0 2.54l-2.54-2.54M575.52 621.44m-1.8 0h3.6m-1.8-1.8v3.6m-1.27-0.53l2.54-2.54m0 2.54l-2.54-2.54M577.85 621.48m-1.8 0h3.6m-1.8-1.8v3.6m-1.27-0.53l2.54-2.54m0 2.54l-2.54-2.54M580.17 621.51m-1.8 0h3.6m-1.8-1.8v3.6m-1.27-0.53l2.54-2.54m0 2.54l-2.54-2.54M582.5 621.55m-1.8 0h3.6m-1.8-1.8v3.6m-1.27-0.53l2.54-2.54m0 2.54l-2.54-2.54M584.83 621.59m-1.8 0h3.6m-1.8-1.8v3.6m-1.27-0.53l2.54-2.54m0 2.54l-2.54-2.54M587.15 621.62m-1.8 0h3.6m-1.8-1.8v3.6m-1.27-0.53l2.54-2.54m0 2.54l-2.54-2.54M589.48 621.66m-1.8 0h3.6m-1.8-1.8v3.6m-1.27-0.53l2.54-2.54m0 2.54l-2.54-2.54M591.8 621.7m-1.8 0h3.6m-1.8-1.8v3.6m-1.27-0.53l2.54-2.54m0 2.54l-2.54-2.54M594.12 621.8m-1.8 0h3.6m-1.8-1.8v3.6m-1.27-0.53l2.54-2.54m0 2.54l-2.54-2.54M596.45 621.91m-1.8 0h3.6m-1.8-1.8v3.6m-1.27-0.53l2.54-2.54m0 2.54l-2.54-2.54M598.77 622.02m-1.8 0h3.6m-1.8-1.8v3.6m-1.27-0.53l2.54-2.54m0 2.54l-2.54-2.54M601.1 622.13m-1.8 0h3.6m-1.8-1.8v3.6m-1.27-0.53l2.54-2.54m0 2.54l-2.54-2.54M603.42 622.24m-1.8 0h3.6m-1.8-1.8v3.6m-1.27-0.53l2.54-2.54m0 2.54l-2.54-2.54M605.75 622.35m-1.8 0h3.6m-1.8-1.8v3.6m-1.27-0.53l2.54-2.54m0 2.54l-2.54-2.54M608.08 622.46m-1.8 0h3.6m-1.8-1.8v3.6m-1.27-0.53l2.54-2.54m0 2.54l-2.54-2.54M610.4 622.57m-1.8 0h3.6m-1.8-1.8v3.6m-1.27-0.53l2.54-2.54m0 2.54l-2.54-2.54M612.73 622.68m-1.8 0h3.6m-1.8-1.8v3.6m-1.27-0.53l2.54-2.54m0 2.54l-2.54-2.54M615.05 622.79m-1.8 0h3.6m-1.8-1.8v3.6m-1.27-0.53l2.54-2.54m0 2.54l-2.54-2.54M617.38 622.9m-1.8 0h3.6m-1.8-1.8v3.6m-1.27-0.53l2.54-2.54m0 2.54l-2.54-2.54M619.7 623.19m-1.8 0h3.6m-1.8-1.8v3.6m-1.27-0.53l2.54-2.54m0 2.54l-2.54-2.54M622.02 623.49m-1.8 0h3.6m-1.8-1.8v3.6m-1.27-0.53l2.54-2.54m0 2.54l-2.54-2.54M624.35 623.79m-1.8 0h3.6m-1.8-1.8v3.6m-1.27-0.53l2.54-2.54m0 2.54l-2.54-2.54M626.67 624.08m-1.8 0h3.6m-1.8-1.8v3.6m-1.27-0.53l2.54-2.54m0 2.54l-2.54-2.54M629 624.56m-1.8 0h3.6m-1.8-1.8v3.6m-1.27-0.53l2.54-2.54m0 2.54l-2.54-2.54M631.33 625.15m-1.8 0h3.6m-1.8-1.8v3.6m-1.27-0.53l2.54-2.54m0 2.54l-2.54-2.54M633.65 625.74m-1.8 0h3.6m-1.8-1.8v3.6m-1.27-0.53l2.54-2.54m0 2.54l-2.54-2.54M635.98 626.33m-1.8 0h3.6m-1.8-1.8v3.6m-1.27-0.53l2.54-2.54m0 2.54l-2.54-2.54M638.3 626.92m-1.8 0h3.6m-1.8-1.8v3.6m-1.27-0.53l2.54-2.54m0 2.54l-2.54-2.54" stroke="#e23c3c" stroke-width="0.85" fill="none"/>
</svg>
</body></html>
